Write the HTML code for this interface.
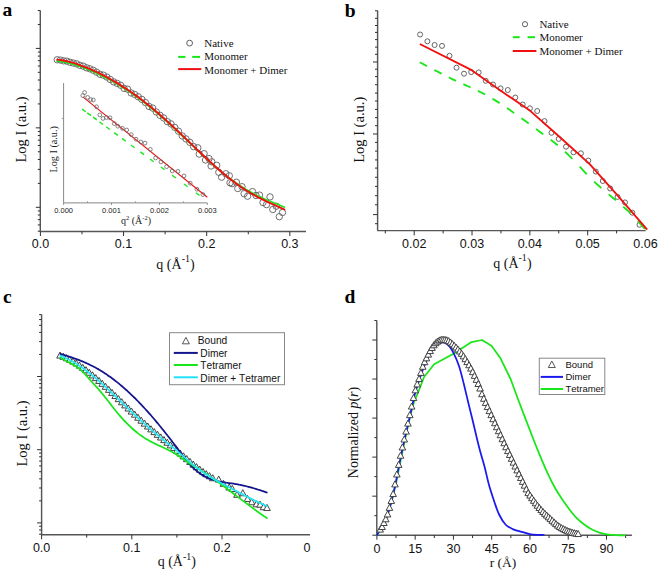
<!DOCTYPE html>
<html><head><meta charset="utf-8"><style>
html,body{margin:0;padding:0;background:#fff;}
svg{display:block;}
text{font-kerning:none;font-feature-settings:"kern" 0;}
</style></head><body>
<svg width="660" height="572" viewBox="0 0 660 572">
<rect width="660" height="572" fill="#fff"/>
<text x="2.50" y="15.90" font-family="Liberation Serif" font-size="19.5" text-anchor="start" font-weight="bold" fill="#000" >a</text>
<line x1="40.30" y1="10.50" x2="40.30" y2="231.50" stroke="#565656" stroke-width="1.45" />
<line x1="35.80" y1="48.40" x2="40.30" y2="48.40" stroke="#303030" stroke-width="1.0" />
<line x1="37.80" y1="103.93" x2="40.30" y2="103.93" stroke="#303030" stroke-width="1.0" />
<line x1="37.80" y1="89.94" x2="40.30" y2="89.94" stroke="#303030" stroke-width="1.0" />
<line x1="37.80" y1="80.02" x2="40.30" y2="80.02" stroke="#303030" stroke-width="1.0" />
<line x1="37.80" y1="72.32" x2="40.30" y2="72.32" stroke="#303030" stroke-width="1.0" />
<line x1="37.80" y1="66.03" x2="40.30" y2="66.03" stroke="#303030" stroke-width="1.0" />
<line x1="37.80" y1="60.71" x2="40.30" y2="60.71" stroke="#303030" stroke-width="1.0" />
<line x1="37.80" y1="56.10" x2="40.30" y2="56.10" stroke="#303030" stroke-width="1.0" />
<line x1="37.80" y1="52.04" x2="40.30" y2="52.04" stroke="#303030" stroke-width="1.0" />
<line x1="35.80" y1="127.85" x2="40.30" y2="127.85" stroke="#303030" stroke-width="1.0" />
<line x1="37.80" y1="183.38" x2="40.30" y2="183.38" stroke="#303030" stroke-width="1.0" />
<line x1="37.80" y1="169.39" x2="40.30" y2="169.39" stroke="#303030" stroke-width="1.0" />
<line x1="37.80" y1="159.47" x2="40.30" y2="159.47" stroke="#303030" stroke-width="1.0" />
<line x1="37.80" y1="151.77" x2="40.30" y2="151.77" stroke="#303030" stroke-width="1.0" />
<line x1="37.80" y1="145.48" x2="40.30" y2="145.48" stroke="#303030" stroke-width="1.0" />
<line x1="37.80" y1="140.16" x2="40.30" y2="140.16" stroke="#303030" stroke-width="1.0" />
<line x1="37.80" y1="135.55" x2="40.30" y2="135.55" stroke="#303030" stroke-width="1.0" />
<line x1="37.80" y1="131.49" x2="40.30" y2="131.49" stroke="#303030" stroke-width="1.0" />
<line x1="35.80" y1="207.30" x2="40.30" y2="207.30" stroke="#303030" stroke-width="1.0" />
<line x1="37.80" y1="231.22" x2="40.30" y2="231.22" stroke="#303030" stroke-width="1.0" />
<line x1="37.80" y1="224.93" x2="40.30" y2="224.93" stroke="#303030" stroke-width="1.0" />
<line x1="37.80" y1="219.61" x2="40.30" y2="219.61" stroke="#303030" stroke-width="1.0" />
<line x1="37.80" y1="215.00" x2="40.30" y2="215.00" stroke="#303030" stroke-width="1.0" />
<line x1="37.80" y1="210.94" x2="40.30" y2="210.94" stroke="#303030" stroke-width="1.0" />
<line x1="37.80" y1="24.48" x2="40.30" y2="24.48" stroke="#303030" stroke-width="1.0" />
<line x1="37.80" y1="10.49" x2="40.30" y2="10.49" stroke="#303030" stroke-width="1.0" />
<line x1="40.30" y1="231.50" x2="306.00" y2="231.50" stroke="#565656" stroke-width="1.45" />
<line x1="40.40" y1="231.50" x2="40.40" y2="236.00" stroke="#303030" stroke-width="1.0" />
<line x1="123.55" y1="231.50" x2="123.55" y2="236.00" stroke="#303030" stroke-width="1.0" />
<line x1="206.70" y1="231.50" x2="206.70" y2="236.00" stroke="#303030" stroke-width="1.0" />
<line x1="289.85" y1="231.50" x2="289.85" y2="236.00" stroke="#303030" stroke-width="1.0" />
<line x1="81.97" y1="231.50" x2="81.97" y2="234.30" stroke="#303030" stroke-width="1.0" />
<line x1="165.12" y1="231.50" x2="165.12" y2="234.30" stroke="#303030" stroke-width="1.0" />
<line x1="248.28" y1="231.50" x2="248.28" y2="234.30" stroke="#303030" stroke-width="1.0" />
<text x="40.40" y="248.30" font-family="Liberation Sans" font-size="12.5" text-anchor="middle" font-weight="normal" fill="#111" >0.0</text>
<text x="123.55" y="248.30" font-family="Liberation Sans" font-size="12.5" text-anchor="middle" font-weight="normal" fill="#111" >0.1</text>
<text x="206.70" y="248.30" font-family="Liberation Sans" font-size="12.5" text-anchor="middle" font-weight="normal" fill="#111" >0.2</text>
<text x="289.85" y="248.30" font-family="Liberation Sans" font-size="12.5" text-anchor="middle" font-weight="normal" fill="#111" >0.3</text>
<text x="175.50" y="269.00" font-family="Liberation Serif" font-size="14" text-anchor="middle" font-weight="normal" fill="#111" >q (Å<tspan dy="-6.8" font-size="10">-1</tspan><tspan dy="6.8">)</tspan></text>
<text transform="translate(26.4,129.5) rotate(-90)" x="0" y="0" font-family="Liberation Serif" font-size="14.5" text-anchor="middle" fill="#111">Log I (a.u.)</text>
<circle cx="57.20" cy="59.76" r="3.2" fill="none" stroke="#606060" stroke-width="0.9"/>
<circle cx="60.40" cy="60.05" r="3.2" fill="none" stroke="#606060" stroke-width="0.9"/>
<circle cx="63.62" cy="60.84" r="3.2" fill="none" stroke="#606060" stroke-width="0.9"/>
<circle cx="66.85" cy="61.20" r="3.2" fill="none" stroke="#606060" stroke-width="0.9"/>
<circle cx="70.09" cy="62.27" r="3.2" fill="none" stroke="#606060" stroke-width="0.9"/>
<circle cx="73.35" cy="63.08" r="3.2" fill="none" stroke="#606060" stroke-width="0.9"/>
<circle cx="76.63" cy="63.86" r="3.2" fill="none" stroke="#606060" stroke-width="0.9"/>
<circle cx="79.92" cy="65.33" r="3.2" fill="none" stroke="#606060" stroke-width="0.9"/>
<circle cx="83.22" cy="66.14" r="3.2" fill="none" stroke="#606060" stroke-width="0.9"/>
<circle cx="86.55" cy="67.79" r="3.2" fill="none" stroke="#606060" stroke-width="0.9"/>
<circle cx="89.88" cy="68.81" r="3.2" fill="none" stroke="#606060" stroke-width="0.9"/>
<circle cx="93.23" cy="70.28" r="3.2" fill="none" stroke="#606060" stroke-width="0.9"/>
<circle cx="96.60" cy="72.18" r="3.2" fill="none" stroke="#606060" stroke-width="0.9"/>
<circle cx="99.98" cy="74.28" r="3.2" fill="none" stroke="#606060" stroke-width="0.9"/>
<circle cx="103.38" cy="75.14" r="3.2" fill="none" stroke="#606060" stroke-width="0.9"/>
<circle cx="106.80" cy="77.04" r="3.2" fill="none" stroke="#606060" stroke-width="0.9"/>
<circle cx="110.23" cy="79.45" r="3.2" fill="none" stroke="#606060" stroke-width="0.9"/>
<circle cx="113.67" cy="81.88" r="3.2" fill="none" stroke="#606060" stroke-width="0.9"/>
<circle cx="117.13" cy="83.39" r="3.2" fill="none" stroke="#606060" stroke-width="0.9"/>
<circle cx="120.61" cy="85.25" r="3.2" fill="none" stroke="#606060" stroke-width="0.9"/>
<circle cx="124.10" cy="88.40" r="3.2" fill="none" stroke="#606060" stroke-width="0.9"/>
<circle cx="127.61" cy="89.17" r="3.2" fill="none" stroke="#606060" stroke-width="0.9"/>
<circle cx="131.14" cy="92.96" r="3.2" fill="none" stroke="#606060" stroke-width="0.9"/>
<circle cx="134.68" cy="94.45" r="3.2" fill="none" stroke="#606060" stroke-width="0.9"/>
<circle cx="138.24" cy="96.76" r="3.2" fill="none" stroke="#606060" stroke-width="0.9"/>
<circle cx="141.82" cy="99.37" r="3.2" fill="none" stroke="#606060" stroke-width="0.9"/>
<circle cx="145.41" cy="102.51" r="3.2" fill="none" stroke="#606060" stroke-width="0.9"/>
<circle cx="149.02" cy="106.43" r="3.2" fill="none" stroke="#606060" stroke-width="0.9"/>
<circle cx="152.64" cy="108.07" r="3.2" fill="none" stroke="#606060" stroke-width="0.9"/>
<circle cx="156.28" cy="112.00" r="3.2" fill="none" stroke="#606060" stroke-width="0.9"/>
<circle cx="159.94" cy="115.29" r="3.2" fill="none" stroke="#606060" stroke-width="0.9"/>
<circle cx="163.61" cy="117.91" r="3.2" fill="none" stroke="#606060" stroke-width="0.9"/>
<circle cx="167.31" cy="121.65" r="3.2" fill="none" stroke="#606060" stroke-width="0.9"/>
<circle cx="171.02" cy="123.88" r="3.2" fill="none" stroke="#606060" stroke-width="0.9"/>
<circle cx="174.74" cy="127.34" r="3.2" fill="none" stroke="#606060" stroke-width="0.9"/>
<circle cx="178.49" cy="131.22" r="3.2" fill="none" stroke="#606060" stroke-width="0.9"/>
<circle cx="182.25" cy="135.94" r="3.2" fill="none" stroke="#606060" stroke-width="0.9"/>
<circle cx="186.02" cy="138.95" r="3.2" fill="none" stroke="#606060" stroke-width="0.9"/>
<circle cx="189.82" cy="142.33" r="3.2" fill="none" stroke="#606060" stroke-width="0.9"/>
<circle cx="193.62" cy="146.64" r="3.2" fill="none" stroke="#606060" stroke-width="0.9"/>
<circle cx="197.80" cy="147.80" r="3.2" fill="none" stroke="#606060" stroke-width="0.9"/>
<circle cx="199.20" cy="154.10" r="3.2" fill="none" stroke="#606060" stroke-width="0.9"/>
<circle cx="204.10" cy="153.70" r="3.2" fill="none" stroke="#606060" stroke-width="0.9"/>
<circle cx="205.50" cy="160.00" r="3.2" fill="none" stroke="#606060" stroke-width="0.9"/>
<circle cx="209.00" cy="158.60" r="3.2" fill="none" stroke="#606060" stroke-width="0.9"/>
<circle cx="211.80" cy="161.80" r="3.2" fill="none" stroke="#606060" stroke-width="0.9"/>
<circle cx="211.10" cy="166.00" r="3.2" fill="none" stroke="#606060" stroke-width="0.9"/>
<circle cx="216.70" cy="165.30" r="3.2" fill="none" stroke="#606060" stroke-width="0.9"/>
<circle cx="218.80" cy="172.30" r="3.2" fill="none" stroke="#606060" stroke-width="0.9"/>
<circle cx="221.60" cy="177.20" r="3.2" fill="none" stroke="#606060" stroke-width="0.9"/>
<circle cx="225.80" cy="173.70" r="3.2" fill="none" stroke="#606060" stroke-width="0.9"/>
<circle cx="229.30" cy="175.80" r="3.2" fill="none" stroke="#606060" stroke-width="0.9"/>
<circle cx="230.00" cy="182.80" r="3.2" fill="none" stroke="#606060" stroke-width="0.9"/>
<circle cx="232.10" cy="183.60" r="3.2" fill="none" stroke="#606060" stroke-width="0.9"/>
<circle cx="236.40" cy="182.20" r="3.2" fill="none" stroke="#606060" stroke-width="0.9"/>
<circle cx="237.80" cy="188.50" r="3.2" fill="none" stroke="#606060" stroke-width="0.9"/>
<circle cx="242.00" cy="186.70" r="3.2" fill="none" stroke="#606060" stroke-width="0.9"/>
<circle cx="244.10" cy="193.70" r="3.2" fill="none" stroke="#606060" stroke-width="0.9"/>
<circle cx="247.60" cy="196.20" r="3.2" fill="none" stroke="#606060" stroke-width="0.9"/>
<circle cx="252.50" cy="191.60" r="3.2" fill="none" stroke="#606060" stroke-width="0.9"/>
<circle cx="256.00" cy="195.50" r="3.2" fill="none" stroke="#606060" stroke-width="0.9"/>
<circle cx="259.50" cy="195.10" r="3.2" fill="none" stroke="#606060" stroke-width="0.9"/>
<circle cx="263.00" cy="202.50" r="3.2" fill="none" stroke="#606060" stroke-width="0.9"/>
<circle cx="266.50" cy="204.60" r="3.2" fill="none" stroke="#606060" stroke-width="0.9"/>
<circle cx="270.00" cy="196.90" r="3.2" fill="none" stroke="#606060" stroke-width="0.9"/>
<circle cx="272.80" cy="209.50" r="3.2" fill="none" stroke="#606060" stroke-width="0.9"/>
<circle cx="276.20" cy="206.20" r="3.2" fill="none" stroke="#606060" stroke-width="0.9"/>
<circle cx="279.30" cy="216.70" r="3.2" fill="none" stroke="#606060" stroke-width="0.9"/>
<circle cx="282.50" cy="212.50" r="3.2" fill="none" stroke="#606060" stroke-width="0.9"/>
<path d="M56.40,61.07 C57.07,61.14 59.07,61.31 60.40,61.49 C61.73,61.66 63.07,61.88 64.40,62.13 C65.73,62.38 67.07,62.67 68.40,62.98 C69.73,63.30 71.07,63.64 72.40,64.01 C73.73,64.38 75.07,64.78 76.40,65.19 C77.73,65.61 79.07,66.05 80.40,66.52 C81.73,66.98 83.07,67.46 84.40,67.96 C85.73,68.47 87.07,68.99 88.40,69.53 C89.73,70.08 91.07,70.64 92.40,71.23 C93.73,71.81 95.07,72.41 96.40,73.03 C97.73,73.65 99.07,74.29 100.40,74.95 C101.73,75.60 103.07,76.27 104.40,76.96 C105.73,77.65 107.07,78.35 108.40,79.07 C109.73,79.79 111.07,80.53 112.40,81.28 C113.73,82.03 115.07,82.81 116.40,83.59 C117.73,84.38 119.07,85.19 120.40,86.01 C121.73,86.83 123.07,87.67 124.40,88.53 C125.73,89.38 127.07,90.26 128.40,91.15 C129.73,92.04 131.07,92.95 132.40,93.88 C133.73,94.81 135.07,95.75 136.40,96.72 C137.73,97.68 139.07,98.66 140.40,99.66 C141.73,100.66 143.07,101.67 144.40,102.70 C145.73,103.74 147.07,104.79 148.40,105.85 C149.73,106.92 151.07,108.00 152.40,109.10 C153.73,110.20 155.07,111.32 156.40,112.45 C157.73,113.58 159.07,114.72 160.40,115.88 C161.73,117.04 163.07,118.21 164.40,119.40 C165.73,120.59 167.07,121.79 168.40,123.00 C169.73,124.20 171.07,125.43 172.40,126.66 C173.73,127.89 175.07,129.13 176.40,130.38 C177.73,131.62 179.07,132.88 180.40,134.14 C181.73,135.39 183.07,136.65 184.40,137.91 C185.73,139.17 187.07,140.43 188.40,141.70 C189.73,142.96 191.07,144.23 192.40,145.49 C193.73,146.76 195.07,148.03 196.40,149.29 C197.73,150.55 199.07,151.80 200.40,153.05 C201.73,154.30 203.07,155.55 204.40,156.79 C205.73,158.02 207.07,159.25 208.40,160.46 C209.73,161.68 211.07,162.88 212.40,164.07 C213.73,165.26 215.07,166.44 216.40,167.60 C217.73,168.76 219.07,169.91 220.40,171.03 C221.73,172.16 223.07,173.28 224.40,174.36 C225.73,175.43 227.07,176.45 228.40,177.46 C229.73,178.47 231.07,179.46 232.40,180.42 C233.73,181.38 235.07,182.32 236.40,183.24 C237.73,184.15 239.07,185.04 240.40,185.91 C241.73,186.77 243.07,187.61 244.40,188.42 C245.73,189.23 247.07,190.02 248.40,190.78 C249.73,191.55 251.07,192.29 252.40,193.01 C253.73,193.73 255.07,194.42 256.40,195.10 C257.73,195.77 259.07,196.42 260.40,197.05 C261.73,197.68 263.07,198.29 264.40,198.89 C265.73,199.49 267.07,200.07 268.40,200.63 C269.73,201.20 271.07,201.74 272.40,202.28 C273.73,202.83 275.07,203.35 276.40,203.89 C277.73,204.42 279.07,204.95 280.40,205.50 C281.73,206.04 283.62,206.83 284.40,207.16 C285.18,207.49 284.98,207.41 285.10,207.46" fill="none" stroke="#19e619" stroke-width="1.6" stroke-linejoin="round" />
<path d="M56.40,59.55 C57.07,59.62 59.07,59.82 60.40,60.02 C61.73,60.21 63.07,60.45 64.40,60.71 C65.73,60.98 67.07,61.28 68.40,61.61 C69.73,61.94 71.07,62.31 72.40,62.69 C73.73,63.08 75.07,63.49 76.40,63.92 C77.73,64.36 79.07,64.82 80.40,65.30 C81.73,65.77 83.07,66.28 84.40,66.79 C85.73,67.31 87.07,67.85 88.40,68.41 C89.73,68.97 91.07,69.55 92.40,70.14 C93.73,70.73 95.07,71.34 96.40,71.97 C97.73,72.60 99.07,73.24 100.40,73.90 C101.73,74.57 103.07,75.24 104.40,75.94 C105.73,76.63 107.07,77.34 108.40,78.07 C109.73,78.80 111.07,79.54 112.40,80.31 C113.73,81.07 115.07,81.84 116.40,82.64 C117.73,83.44 119.07,84.25 120.40,85.08 C121.73,85.91 123.07,86.75 124.40,87.62 C125.73,88.48 127.07,89.36 128.40,90.26 C129.73,91.16 131.07,92.08 132.40,93.02 C133.73,93.95 135.07,94.90 136.40,95.87 C137.73,96.84 139.07,97.83 140.40,98.84 C141.73,99.84 143.07,100.87 144.40,101.91 C145.73,102.95 147.07,104.00 148.40,105.08 C149.73,106.15 151.07,107.24 152.40,108.35 C153.73,109.46 155.07,110.58 156.40,111.72 C157.73,112.85 159.07,114.01 160.40,115.17 C161.73,116.34 163.07,117.52 164.40,118.71 C165.73,119.91 167.07,121.11 168.40,122.33 C169.73,123.55 171.07,124.78 172.40,126.01 C173.73,127.25 175.07,128.50 176.40,129.76 C177.73,131.01 179.07,132.28 180.40,133.54 C181.73,134.81 183.07,136.09 184.40,137.37 C185.73,138.64 187.07,139.93 188.40,141.21 C189.73,142.49 191.07,143.78 192.40,145.06 C193.73,146.34 195.07,147.63 196.40,148.90 C197.73,150.18 199.07,151.46 200.40,152.73 C201.73,153.99 203.07,155.26 204.40,156.51 C205.73,157.76 207.07,159.01 208.40,160.24 C209.73,161.48 211.07,162.70 212.40,163.91 C213.73,165.11 215.07,166.31 216.40,167.49 C217.73,168.67 219.07,169.83 220.40,170.97 C221.73,172.12 223.07,173.24 224.40,174.35 C225.73,175.45 227.07,176.54 228.40,177.60 C229.73,178.66 231.07,179.70 232.40,180.72 C233.73,181.73 235.07,182.73 236.40,183.69 C237.73,184.66 239.07,185.60 240.40,186.52 C241.73,187.44 243.07,188.33 244.40,189.20 C245.73,190.06 247.07,190.90 248.40,191.72 C249.73,192.54 251.07,193.33 252.40,194.09 C253.73,194.86 255.07,195.60 256.40,196.32 C257.73,197.04 259.07,197.74 260.40,198.42 C261.73,199.09 263.07,199.75 264.40,200.39 C265.73,201.04 267.07,201.66 268.40,202.28 C269.73,202.89 271.07,203.49 272.40,204.09 C273.73,204.69 275.07,205.28 276.40,205.87 C277.73,206.47 279.07,207.06 280.40,207.66 C281.73,208.27 283.62,209.14 284.40,209.51 C285.18,209.87 284.98,209.79 285.10,209.84" fill="none" stroke="#f01010" stroke-width="1.9" stroke-linejoin="round" />
<circle cx="189.60" cy="43.10" r="2.9" fill="none" stroke="#555" stroke-width="0.95"/>
<line x1="178.20" y1="56.90" x2="185.50" y2="56.90" stroke="#19e619" stroke-width="2.0" />
<line x1="192.20" y1="56.90" x2="200.00" y2="56.90" stroke="#19e619" stroke-width="2.0" />
<line x1="178.20" y1="69.10" x2="201.30" y2="69.10" stroke="#f01010" stroke-width="2.0" />
<text x="204.20" y="46.70" font-family="Liberation Serif" font-size="11" text-anchor="start" font-weight="normal" fill="#111" >Native</text>
<text x="204.20" y="60.00" font-family="Liberation Serif" font-size="11" text-anchor="start" font-weight="normal" fill="#111" >Monomer</text>
<text x="204.20" y="73.60" font-family="Liberation Serif" font-size="11" text-anchor="start" font-weight="normal" fill="#111" >Monomer + Dimer</text>
<line x1="63.60" y1="83.00" x2="63.60" y2="202.90" stroke="#888" stroke-width="1.0" />
<line x1="63.60" y1="202.90" x2="207.30" y2="202.90" stroke="#888" stroke-width="1.0" />
<line x1="61.80" y1="118.40" x2="63.60" y2="118.40" stroke="#888" stroke-width="0.9" />
<line x1="63.60" y1="202.90" x2="63.60" y2="205.00" stroke="#888" stroke-width="0.9" />
<text x="63.60" y="212.70" font-family="Liberation Sans" font-size="7.5" text-anchor="middle" font-weight="normal" fill="#222" >0.000</text>
<line x1="111.50" y1="202.90" x2="111.50" y2="205.00" stroke="#888" stroke-width="0.9" />
<text x="111.50" y="212.70" font-family="Liberation Sans" font-size="7.5" text-anchor="middle" font-weight="normal" fill="#222" >0.001</text>
<line x1="159.50" y1="202.90" x2="159.50" y2="205.00" stroke="#888" stroke-width="0.9" />
<text x="159.50" y="212.70" font-family="Liberation Sans" font-size="7.5" text-anchor="middle" font-weight="normal" fill="#222" >0.002</text>
<line x1="207.30" y1="202.90" x2="207.30" y2="205.00" stroke="#888" stroke-width="0.9" />
<text x="207.30" y="212.70" font-family="Liberation Sans" font-size="7.5" text-anchor="middle" font-weight="normal" fill="#222" >0.003</text>
<line x1="87.50" y1="201.30" x2="87.50" y2="202.90" stroke="#888" stroke-width="0.9" />
<line x1="135.60" y1="201.30" x2="135.60" y2="202.90" stroke="#888" stroke-width="0.9" />
<line x1="183.60" y1="201.30" x2="183.60" y2="202.90" stroke="#888" stroke-width="0.9" />
<text x="136.00" y="224.30" font-family="Liberation Serif" font-size="10" text-anchor="middle" font-weight="normal" fill="#222" >q<tspan dy="-4" font-size="6.5">2</tspan><tspan dy="4"> (Å</tspan><tspan dy="-4" font-size="6.5">-2</tspan><tspan dy="4">)</tspan></text>
<text transform="translate(56.5,149.3) rotate(-90)" font-family="Liberation Serif" font-size="10.2" text-anchor="middle" fill="#222">Log I (a.u.)</text>
<line x1="82.80" y1="96.90" x2="207.30" y2="197.30" stroke="#f01010" stroke-width="1.1" />
<line x1="82.10" y1="109.07" x2="85.80" y2="111.79" stroke="#19e619" stroke-width="1.4" />
<line x1="87.30" y1="112.90" x2="91.00" y2="115.62" stroke="#19e619" stroke-width="1.4" />
<line x1="93.10" y1="117.16" x2="96.80" y2="119.89" stroke="#19e619" stroke-width="1.4" />
<line x1="99.40" y1="121.80" x2="103.10" y2="124.52" stroke="#19e619" stroke-width="1.4" />
<line x1="106.20" y1="126.80" x2="109.90" y2="129.52" stroke="#19e619" stroke-width="1.4" />
<line x1="114.10" y1="132.61" x2="117.80" y2="135.33" stroke="#19e619" stroke-width="1.4" />
<line x1="122.00" y1="138.42" x2="125.70" y2="141.14" stroke="#19e619" stroke-width="1.4" />
<line x1="130.90" y1="144.97" x2="134.60" y2="147.69" stroke="#19e619" stroke-width="1.4" />
<line x1="140.30" y1="151.88" x2="144.00" y2="154.60" stroke="#19e619" stroke-width="1.4" />
<line x1="150.00" y1="159.01" x2="153.70" y2="161.74" stroke="#19e619" stroke-width="1.4" />
<line x1="160.90" y1="167.03" x2="164.60" y2="169.75" stroke="#19e619" stroke-width="1.4" />
<line x1="172.10" y1="175.27" x2="175.80" y2="177.99" stroke="#19e619" stroke-width="1.4" />
<line x1="184.00" y1="184.02" x2="187.70" y2="186.74" stroke="#19e619" stroke-width="1.4" />
<line x1="195.90" y1="192.77" x2="199.60" y2="195.49" stroke="#19e619" stroke-width="1.4" />
<circle cx="84.60" cy="92.50" r="1.9" fill="none" stroke="#666" stroke-width="0.8"/>
<circle cx="82.80" cy="95.60" r="1.9" fill="none" stroke="#666" stroke-width="0.8"/>
<circle cx="87.60" cy="97.40" r="1.9" fill="none" stroke="#666" stroke-width="0.8"/>
<circle cx="90.70" cy="99.50" r="1.9" fill="none" stroke="#666" stroke-width="0.8"/>
<circle cx="93.30" cy="100.00" r="1.9" fill="none" stroke="#666" stroke-width="0.8"/>
<circle cx="96.50" cy="106.80" r="1.9" fill="none" stroke="#666" stroke-width="0.8"/>
<circle cx="99.80" cy="114.90" r="1.9" fill="none" stroke="#666" stroke-width="0.8"/>
<circle cx="103.00" cy="118.40" r="1.9" fill="none" stroke="#666" stroke-width="0.8"/>
<circle cx="106.40" cy="117.50" r="1.9" fill="none" stroke="#666" stroke-width="0.8"/>
<circle cx="110.00" cy="117.80" r="1.9" fill="none" stroke="#666" stroke-width="0.8"/>
<circle cx="114.30" cy="123.60" r="1.9" fill="none" stroke="#666" stroke-width="0.8"/>
<circle cx="117.80" cy="126.20" r="1.9" fill="none" stroke="#666" stroke-width="0.8"/>
<circle cx="122.40" cy="128.30" r="1.9" fill="none" stroke="#666" stroke-width="0.8"/>
<circle cx="126.70" cy="130.00" r="1.9" fill="none" stroke="#666" stroke-width="0.8"/>
<circle cx="131.20" cy="134.60" r="1.9" fill="none" stroke="#666" stroke-width="0.8"/>
<circle cx="136.00" cy="139.20" r="1.9" fill="none" stroke="#666" stroke-width="0.8"/>
<circle cx="140.90" cy="142.00" r="1.9" fill="none" stroke="#666" stroke-width="0.8"/>
<circle cx="145.00" cy="143.10" r="1.9" fill="none" stroke="#666" stroke-width="0.8"/>
<circle cx="150.30" cy="149.40" r="1.9" fill="none" stroke="#666" stroke-width="0.8"/>
<circle cx="155.60" cy="158.00" r="1.9" fill="none" stroke="#666" stroke-width="0.8"/>
<circle cx="160.90" cy="161.90" r="1.9" fill="none" stroke="#666" stroke-width="0.8"/>
<circle cx="166.60" cy="166.70" r="1.9" fill="none" stroke="#666" stroke-width="0.8"/>
<circle cx="172.20" cy="171.00" r="1.9" fill="none" stroke="#666" stroke-width="0.8"/>
<circle cx="178.00" cy="171.40" r="1.9" fill="none" stroke="#666" stroke-width="0.8"/>
<circle cx="184.00" cy="175.90" r="1.9" fill="none" stroke="#666" stroke-width="0.8"/>
<circle cx="190.20" cy="183.20" r="1.9" fill="none" stroke="#666" stroke-width="0.8"/>
<circle cx="196.90" cy="189.20" r="1.9" fill="none" stroke="#666" stroke-width="0.8"/>
<circle cx="202.90" cy="194.50" r="1.9" fill="none" stroke="#666" stroke-width="0.8"/>
<text x="344.80" y="16.50" font-family="Liberation Serif" font-size="19.5" text-anchor="start" font-weight="bold" fill="#000" >b</text>
<line x1="377.60" y1="10.50" x2="377.60" y2="230.60" stroke="#565656" stroke-width="1.45" />
<line x1="375.00" y1="10.80" x2="377.60" y2="10.80" stroke="#303030" stroke-width="1.0" />
<line x1="375.00" y1="18.30" x2="377.60" y2="18.30" stroke="#303030" stroke-width="1.0" />
<line x1="375.00" y1="25.50" x2="377.60" y2="25.50" stroke="#303030" stroke-width="1.0" />
<line x1="375.00" y1="32.40" x2="377.60" y2="32.40" stroke="#303030" stroke-width="1.0" />
<line x1="375.00" y1="39.60" x2="377.60" y2="39.60" stroke="#303030" stroke-width="1.0" />
<line x1="375.00" y1="47.10" x2="377.60" y2="47.10" stroke="#303030" stroke-width="1.0" />
<line x1="375.00" y1="54.30" x2="377.60" y2="54.30" stroke="#303030" stroke-width="1.0" />
<line x1="373.00" y1="62.00" x2="377.60" y2="62.00" stroke="#303030" stroke-width="1.0" />
<line x1="375.00" y1="69.20" x2="377.60" y2="69.20" stroke="#303030" stroke-width="1.0" />
<line x1="375.00" y1="76.60" x2="377.60" y2="76.60" stroke="#303030" stroke-width="1.0" />
<line x1="375.00" y1="84.70" x2="377.60" y2="84.70" stroke="#303030" stroke-width="1.0" />
<line x1="375.00" y1="93.10" x2="377.60" y2="93.10" stroke="#303030" stroke-width="1.0" />
<line x1="375.00" y1="101.00" x2="377.60" y2="101.00" stroke="#303030" stroke-width="1.0" />
<line x1="375.00" y1="109.40" x2="377.60" y2="109.40" stroke="#303030" stroke-width="1.0" />
<line x1="375.00" y1="117.60" x2="377.60" y2="117.60" stroke="#303030" stroke-width="1.0" />
<line x1="375.00" y1="125.70" x2="377.60" y2="125.70" stroke="#303030" stroke-width="1.0" />
<line x1="373.00" y1="134.00" x2="377.60" y2="134.00" stroke="#303030" stroke-width="1.0" />
<line x1="375.00" y1="142.40" x2="377.60" y2="142.40" stroke="#303030" stroke-width="1.0" />
<line x1="375.00" y1="151.10" x2="377.60" y2="151.10" stroke="#303030" stroke-width="1.0" />
<line x1="375.00" y1="159.90" x2="377.60" y2="159.90" stroke="#303030" stroke-width="1.0" />
<line x1="375.00" y1="168.10" x2="377.60" y2="168.10" stroke="#303030" stroke-width="1.0" />
<line x1="375.00" y1="177.30" x2="377.60" y2="177.30" stroke="#303030" stroke-width="1.0" />
<line x1="375.00" y1="186.40" x2="377.60" y2="186.40" stroke="#303030" stroke-width="1.0" />
<line x1="375.00" y1="195.70" x2="377.60" y2="195.70" stroke="#303030" stroke-width="1.0" />
<line x1="375.00" y1="204.80" x2="377.60" y2="204.80" stroke="#303030" stroke-width="1.0" />
<line x1="373.00" y1="214.60" x2="377.60" y2="214.60" stroke="#303030" stroke-width="1.0" />
<line x1="375.00" y1="223.70" x2="377.60" y2="223.70" stroke="#303030" stroke-width="1.0" />
<line x1="377.30" y1="230.60" x2="645.70" y2="230.60" stroke="#565656" stroke-width="1.45" />
<line x1="385.29" y1="230.60" x2="385.29" y2="233.40" stroke="#303030" stroke-width="1.0" />
<line x1="414.20" y1="230.60" x2="414.20" y2="235.40" stroke="#303030" stroke-width="1.0" />
<line x1="443.11" y1="230.60" x2="443.11" y2="233.40" stroke="#303030" stroke-width="1.0" />
<line x1="472.02" y1="230.60" x2="472.02" y2="235.40" stroke="#303030" stroke-width="1.0" />
<line x1="500.94" y1="230.60" x2="500.94" y2="233.40" stroke="#303030" stroke-width="1.0" />
<line x1="529.85" y1="230.60" x2="529.85" y2="235.40" stroke="#303030" stroke-width="1.0" />
<line x1="558.76" y1="230.60" x2="558.76" y2="233.40" stroke="#303030" stroke-width="1.0" />
<line x1="587.67" y1="230.60" x2="587.67" y2="235.40" stroke="#303030" stroke-width="1.0" />
<line x1="616.59" y1="230.60" x2="616.59" y2="233.40" stroke="#303030" stroke-width="1.0" />
<text x="414.20" y="248.00" font-family="Liberation Sans" font-size="12.5" text-anchor="middle" font-weight="normal" fill="#111" >0.02</text>
<text x="472.02" y="248.00" font-family="Liberation Sans" font-size="12.5" text-anchor="middle" font-weight="normal" fill="#111" >0.03</text>
<text x="529.85" y="248.00" font-family="Liberation Sans" font-size="12.5" text-anchor="middle" font-weight="normal" fill="#111" >0.04</text>
<text x="587.67" y="248.00" font-family="Liberation Sans" font-size="12.5" text-anchor="middle" font-weight="normal" fill="#111" >0.05</text>
<text x="645.50" y="248.00" font-family="Liberation Sans" font-size="12.5" text-anchor="middle" font-weight="normal" fill="#111" >0.06</text>
<text x="512.40" y="267.50" font-family="Liberation Serif" font-size="14" text-anchor="middle" font-weight="normal" fill="#111" >q (Å<tspan dy="-6.8" font-size="10">-1</tspan><tspan dy="6.8">)</tspan></text>
<text transform="translate(363.9,129.8) rotate(-90)" font-family="Liberation Serif" font-size="14.5" text-anchor="middle" fill="#111">Log I (a.u.)</text>
<circle cx="420.10" cy="34.50" r="2.5" fill="none" stroke="#555" stroke-width="0.9"/>
<circle cx="427.40" cy="41.30" r="2.5" fill="none" stroke="#555" stroke-width="0.9"/>
<circle cx="434.60" cy="45.00" r="2.5" fill="none" stroke="#555" stroke-width="0.9"/>
<circle cx="442.00" cy="45.90" r="2.5" fill="none" stroke="#555" stroke-width="0.9"/>
<circle cx="449.50" cy="55.80" r="2.5" fill="none" stroke="#555" stroke-width="0.9"/>
<circle cx="456.50" cy="67.70" r="2.5" fill="none" stroke="#555" stroke-width="0.9"/>
<circle cx="464.00" cy="73.70" r="2.5" fill="none" stroke="#555" stroke-width="0.9"/>
<circle cx="471.20" cy="72.10" r="2.5" fill="none" stroke="#555" stroke-width="0.9"/>
<circle cx="478.70" cy="72.40" r="2.5" fill="none" stroke="#555" stroke-width="0.9"/>
<circle cx="485.70" cy="80.80" r="2.5" fill="none" stroke="#555" stroke-width="0.9"/>
<circle cx="493.00" cy="84.50" r="2.5" fill="none" stroke="#555" stroke-width="0.9"/>
<circle cx="500.50" cy="88.40" r="2.5" fill="none" stroke="#555" stroke-width="0.9"/>
<circle cx="507.80" cy="90.00" r="2.5" fill="none" stroke="#555" stroke-width="0.9"/>
<circle cx="515.30" cy="97.50" r="2.5" fill="none" stroke="#555" stroke-width="0.9"/>
<circle cx="522.70" cy="104.50" r="2.5" fill="none" stroke="#555" stroke-width="0.9"/>
<circle cx="529.90" cy="108.30" r="2.5" fill="none" stroke="#555" stroke-width="0.9"/>
<circle cx="537.20" cy="111.00" r="2.5" fill="none" stroke="#555" stroke-width="0.9"/>
<circle cx="544.50" cy="121.10" r="2.5" fill="none" stroke="#555" stroke-width="0.9"/>
<circle cx="551.50" cy="132.80" r="2.5" fill="none" stroke="#555" stroke-width="0.9"/>
<circle cx="558.70" cy="138.90" r="2.5" fill="none" stroke="#555" stroke-width="0.9"/>
<circle cx="566.00" cy="146.70" r="2.5" fill="none" stroke="#555" stroke-width="0.9"/>
<circle cx="573.50" cy="152.30" r="2.5" fill="none" stroke="#555" stroke-width="0.9"/>
<circle cx="580.90" cy="153.30" r="2.5" fill="none" stroke="#555" stroke-width="0.9"/>
<circle cx="588.30" cy="160.60" r="2.5" fill="none" stroke="#555" stroke-width="0.9"/>
<circle cx="595.80" cy="171.60" r="2.5" fill="none" stroke="#555" stroke-width="0.9"/>
<circle cx="602.80" cy="181.00" r="2.5" fill="none" stroke="#555" stroke-width="0.9"/>
<circle cx="610.20" cy="188.50" r="2.5" fill="none" stroke="#555" stroke-width="0.9"/>
<circle cx="617.50" cy="196.90" r="2.5" fill="none" stroke="#555" stroke-width="0.9"/>
<circle cx="625.00" cy="202.40" r="2.5" fill="none" stroke="#555" stroke-width="0.9"/>
<circle cx="632.30" cy="212.70" r="2.5" fill="none" stroke="#555" stroke-width="0.9"/>
<circle cx="639.50" cy="224.80" r="2.5" fill="none" stroke="#555" stroke-width="0.9"/>
<path d="M419.80,62.30 L420.61,62.72 L421.54,63.21 L422.57,63.76 L423.71,64.36 L424.94,65.00 L426.25,65.70 L427.00,66.10" fill="none" stroke="#19e619" stroke-width="1.85" stroke-linejoin="round" stroke-linecap="butt"/>
<path d="M434.33,69.95 L435.58,70.61 L437.31,71.51 L439.08,72.43 L440.87,73.36 L441.53,73.70" fill="none" stroke="#19e619" stroke-width="1.85" stroke-linejoin="round" stroke-linecap="butt"/>
<path d="M448.86,77.43 L450.00,78.00 L451.84,78.91 L453.73,79.81 L455.67,80.71 L456.06,80.89" fill="none" stroke="#19e619" stroke-width="1.85" stroke-linejoin="round" stroke-linecap="butt"/>
<path d="M463.39,84.19 L463.77,84.36 L465.88,85.30 L468.02,86.25 L470.18,87.23 L470.59,87.41" fill="none" stroke="#19e619" stroke-width="1.85" stroke-linejoin="round" stroke-linecap="butt"/>
<path d="M477.92,90.84 L479.03,91.38 L481.27,92.49 L483.53,93.65 L485.12,94.49" fill="none" stroke="#19e619" stroke-width="1.85" stroke-linejoin="round" stroke-linecap="butt"/>
<path d="M492.45,98.61 L492.60,98.70 L494.91,100.11 L497.29,101.60 L499.65,103.12" fill="none" stroke="#19e619" stroke-width="1.85" stroke-linejoin="round" stroke-linecap="butt"/>
<path d="M506.98,108.03 L507.34,108.28 L509.93,110.07 L512.53,111.89 L514.18,113.05" fill="none" stroke="#19e619" stroke-width="1.85" stroke-linejoin="round" stroke-linecap="butt"/>
<path d="M521.51,118.30 L522.83,119.26 L525.32,121.08 L527.77,122.87 L528.71,123.56" fill="none" stroke="#19e619" stroke-width="1.85" stroke-linejoin="round" stroke-linecap="butt"/>
<path d="M536.04,128.96 L536.78,129.51 L538.80,131.00 L540.70,132.40 L542.48,133.71 L543.24,134.27" fill="none" stroke="#19e619" stroke-width="1.85" stroke-linejoin="round" stroke-linecap="butt"/>
<path d="M550.57,139.70 L551.13,140.12 L552.33,141.03 L553.48,141.92 L554.60,142.80 L555.70,143.67 L556.78,144.55 L557.77,145.36" fill="none" stroke="#19e619" stroke-width="1.85" stroke-linejoin="round" stroke-linecap="butt"/>
<path d="M565.10,151.78 L566.10,152.70 L567.46,153.98 L568.84,155.30 L570.22,156.67 L571.62,158.08 L572.30,158.78" fill="none" stroke="#19e619" stroke-width="1.85" stroke-linejoin="round" stroke-linecap="butt"/>
<path d="M579.63,166.54 L580.17,167.12 L581.63,168.69 L583.09,170.26 L584.56,171.82 L586.04,173.38 L586.83,174.22" fill="none" stroke="#19e619" stroke-width="1.85" stroke-linejoin="round" stroke-linecap="butt"/>
<path d="M594.16,181.60 L595.00,182.40 L596.53,183.82 L598.09,185.25 L599.69,186.67 L601.31,188.10 L601.36,188.14" fill="none" stroke="#19e619" stroke-width="1.85" stroke-linejoin="round" stroke-linecap="butt"/>
<path d="M608.69,194.37 L609.63,195.16 L611.30,196.54 L612.95,197.92 L614.59,199.28 L615.89,200.37" fill="none" stroke="#19e619" stroke-width="1.85" stroke-linejoin="round" stroke-linecap="butt"/>
<path d="M623.22,206.62 L623.74,207.08 L625.10,208.30 L626.40,209.50 L627.66,210.69 L628.91,211.89 L630.14,213.10 L630.42,213.38" fill="none" stroke="#19e619" stroke-width="1.85" stroke-linejoin="round" stroke-linecap="butt"/>
<path d="M637.75,221.01 L638.01,221.29 L639.00,222.37 L639.95,223.41 L640.85,224.40 L641.71,225.34 L642.52,226.23 L643.27,227.06 L643.97,227.83 L644.61,228.53 L644.95,228.90" fill="none" stroke="#19e619" stroke-width="1.85" stroke-linejoin="round" stroke-linecap="butt"/>
<path d="M419.80,44.00 L471.70,70.20 L499.70,90.00 L529.90,110.60 L560.00,137.30 L589.70,164.10 L617.70,195.60 L647.20,229.70" fill="none" stroke="#f01010" stroke-width="1.85" stroke-linejoin="round" />
<circle cx="525.00" cy="24.20" r="2.6" fill="none" stroke="#555" stroke-width="0.95"/>
<line x1="512.80" y1="37.20" x2="519.70" y2="37.20" stroke="#19e619" stroke-width="2.0" />
<line x1="527.60" y1="37.20" x2="535.00" y2="37.20" stroke="#19e619" stroke-width="2.0" />
<line x1="512.80" y1="51.00" x2="536.40" y2="51.00" stroke="#f01010" stroke-width="2.0" />
<text x="539.40" y="27.70" font-family="Liberation Serif" font-size="11" text-anchor="start" font-weight="normal" fill="#111" >Native</text>
<text x="539.40" y="41.10" font-family="Liberation Serif" font-size="11" text-anchor="start" font-weight="normal" fill="#111" >Monomer</text>
<text x="539.40" y="54.90" font-family="Liberation Serif" font-size="11" text-anchor="start" font-weight="normal" fill="#111" >Monomer + Dimer</text>
<text x="3.00" y="302.70" font-family="Liberation Serif" font-size="19.5" text-anchor="start" font-weight="bold" fill="#000" >c</text>
<line x1="41.60" y1="314.50" x2="41.60" y2="534.80" stroke="#565656" stroke-width="1.45" />
<line x1="37.10" y1="376.50" x2="41.60" y2="376.50" stroke="#303030" stroke-width="1.0" />
<line x1="39.10" y1="427.66" x2="41.60" y2="427.66" stroke="#303030" stroke-width="1.0" />
<line x1="39.10" y1="414.77" x2="41.60" y2="414.77" stroke="#303030" stroke-width="1.0" />
<line x1="39.10" y1="405.63" x2="41.60" y2="405.63" stroke="#303030" stroke-width="1.0" />
<line x1="39.10" y1="398.54" x2="41.60" y2="398.54" stroke="#303030" stroke-width="1.0" />
<line x1="39.10" y1="392.74" x2="41.60" y2="392.74" stroke="#303030" stroke-width="1.0" />
<line x1="39.10" y1="387.84" x2="41.60" y2="387.84" stroke="#303030" stroke-width="1.0" />
<line x1="39.10" y1="383.59" x2="41.60" y2="383.59" stroke="#303030" stroke-width="1.0" />
<line x1="39.10" y1="379.85" x2="41.60" y2="379.85" stroke="#303030" stroke-width="1.0" />
<line x1="37.10" y1="449.70" x2="41.60" y2="449.70" stroke="#303030" stroke-width="1.0" />
<line x1="39.10" y1="500.86" x2="41.60" y2="500.86" stroke="#303030" stroke-width="1.0" />
<line x1="39.10" y1="487.97" x2="41.60" y2="487.97" stroke="#303030" stroke-width="1.0" />
<line x1="39.10" y1="478.83" x2="41.60" y2="478.83" stroke="#303030" stroke-width="1.0" />
<line x1="39.10" y1="471.74" x2="41.60" y2="471.74" stroke="#303030" stroke-width="1.0" />
<line x1="39.10" y1="465.94" x2="41.60" y2="465.94" stroke="#303030" stroke-width="1.0" />
<line x1="39.10" y1="461.04" x2="41.60" y2="461.04" stroke="#303030" stroke-width="1.0" />
<line x1="39.10" y1="456.79" x2="41.60" y2="456.79" stroke="#303030" stroke-width="1.0" />
<line x1="39.10" y1="453.05" x2="41.60" y2="453.05" stroke="#303030" stroke-width="1.0" />
<line x1="37.10" y1="522.90" x2="41.60" y2="522.90" stroke="#303030" stroke-width="1.0" />
<line x1="39.10" y1="534.24" x2="41.60" y2="534.24" stroke="#303030" stroke-width="1.0" />
<line x1="39.10" y1="529.99" x2="41.60" y2="529.99" stroke="#303030" stroke-width="1.0" />
<line x1="39.10" y1="526.25" x2="41.60" y2="526.25" stroke="#303030" stroke-width="1.0" />
<line x1="39.10" y1="354.46" x2="41.60" y2="354.46" stroke="#303030" stroke-width="1.0" />
<line x1="39.10" y1="341.57" x2="41.60" y2="341.57" stroke="#303030" stroke-width="1.0" />
<line x1="39.10" y1="332.43" x2="41.60" y2="332.43" stroke="#303030" stroke-width="1.0" />
<line x1="39.10" y1="325.34" x2="41.60" y2="325.34" stroke="#303030" stroke-width="1.0" />
<line x1="39.10" y1="319.54" x2="41.60" y2="319.54" stroke="#303030" stroke-width="1.0" />
<line x1="39.10" y1="314.64" x2="41.60" y2="314.64" stroke="#303030" stroke-width="1.0" />
<line x1="41.60" y1="534.80" x2="310.00" y2="534.80" stroke="#565656" stroke-width="1.45" />
<line x1="41.60" y1="534.80" x2="41.60" y2="539.30" stroke="#303030" stroke-width="1.0" />
<line x1="131.80" y1="534.80" x2="131.80" y2="539.30" stroke="#303030" stroke-width="1.0" />
<line x1="222.00" y1="534.80" x2="222.00" y2="539.30" stroke="#303030" stroke-width="1.0" />
<line x1="86.70" y1="534.80" x2="86.70" y2="537.60" stroke="#303030" stroke-width="1.0" />
<line x1="176.90" y1="534.80" x2="176.90" y2="537.60" stroke="#303030" stroke-width="1.0" />
<line x1="267.10" y1="534.80" x2="267.10" y2="537.60" stroke="#303030" stroke-width="1.0" />
<text x="41.60" y="551.70" font-family="Liberation Sans" font-size="12.5" text-anchor="middle" font-weight="normal" fill="#111" >0.0</text>
<text x="131.80" y="551.70" font-family="Liberation Sans" font-size="12.5" text-anchor="middle" font-weight="normal" fill="#111" >0.1</text>
<text x="222.00" y="551.70" font-family="Liberation Sans" font-size="12.5" text-anchor="middle" font-weight="normal" fill="#111" >0.2</text>
<text x="303.60" y="551.70" font-family="Liberation Sans" font-size="12.5" text-anchor="start" font-weight="normal" fill="#111" >0</text>
<text x="176.80" y="566.40" font-family="Liberation Serif" font-size="14" text-anchor="middle" font-weight="normal" fill="#111" >q (Å<tspan dy="-6.8" font-size="10">-1</tspan><tspan dy="6.8">)</tspan></text>
<text transform="translate(26.6,433.5) rotate(-90)" font-family="Liberation Serif" font-size="14.5" text-anchor="middle" fill="#111">Log I (a.u.)</text>
<path d="M60.00,352.03 L56.70,358.10 L63.30,358.10 Z" fill="#fff" stroke="#3a3a3a" stroke-width="0.95" stroke-linejoin="miter"/>
<path d="M63.25,353.22 L59.95,359.29 L66.55,359.29 Z" fill="#fff" stroke="#3a3a3a" stroke-width="0.95" stroke-linejoin="miter"/>
<path d="M66.50,354.62 L63.20,360.69 L69.80,360.69 Z" fill="#fff" stroke="#3a3a3a" stroke-width="0.95" stroke-linejoin="miter"/>
<path d="M69.75,356.22 L66.45,362.29 L73.05,362.29 Z" fill="#fff" stroke="#3a3a3a" stroke-width="0.95" stroke-linejoin="miter"/>
<path d="M73.00,357.99 L69.70,364.07 L76.30,364.07 Z" fill="#fff" stroke="#3a3a3a" stroke-width="0.95" stroke-linejoin="miter"/>
<path d="M76.25,359.94 L72.95,366.01 L79.55,366.01 Z" fill="#fff" stroke="#3a3a3a" stroke-width="0.95" stroke-linejoin="miter"/>
<path d="M79.50,362.05 L76.20,368.12 L82.80,368.12 Z" fill="#fff" stroke="#3a3a3a" stroke-width="0.95" stroke-linejoin="miter"/>
<path d="M82.75,364.30 L79.45,370.37 L86.05,370.37 Z" fill="#fff" stroke="#3a3a3a" stroke-width="0.95" stroke-linejoin="miter"/>
<path d="M86.00,366.69 L82.70,372.76 L89.30,372.76 Z" fill="#fff" stroke="#3a3a3a" stroke-width="0.95" stroke-linejoin="miter"/>
<path d="M89.25,369.21 L85.95,375.28 L92.55,375.28 Z" fill="#fff" stroke="#3a3a3a" stroke-width="0.95" stroke-linejoin="miter"/>
<path d="M92.50,371.83 L89.20,377.91 L95.80,377.91 Z" fill="#fff" stroke="#3a3a3a" stroke-width="0.95" stroke-linejoin="miter"/>
<path d="M95.75,374.57 L92.45,380.64 L99.05,380.64 Z" fill="#fff" stroke="#3a3a3a" stroke-width="0.95" stroke-linejoin="miter"/>
<path d="M99.00,377.39 L95.70,383.46 L102.30,383.46 Z" fill="#fff" stroke="#3a3a3a" stroke-width="0.95" stroke-linejoin="miter"/>
<path d="M102.25,380.29 L98.95,386.36 L105.55,386.36 Z" fill="#fff" stroke="#3a3a3a" stroke-width="0.95" stroke-linejoin="miter"/>
<path d="M105.50,383.25 L102.20,389.32 L108.80,389.32 Z" fill="#fff" stroke="#3a3a3a" stroke-width="0.95" stroke-linejoin="miter"/>
<path d="M108.75,386.28 L105.45,392.35 L112.05,392.35 Z" fill="#fff" stroke="#3a3a3a" stroke-width="0.95" stroke-linejoin="miter"/>
<path d="M112.00,389.34 L108.70,395.42 L115.30,395.42 Z" fill="#fff" stroke="#3a3a3a" stroke-width="0.95" stroke-linejoin="miter"/>
<path d="M115.25,392.44 L111.95,398.52 L118.55,398.52 Z" fill="#fff" stroke="#3a3a3a" stroke-width="0.95" stroke-linejoin="miter"/>
<path d="M118.50,395.57 L115.20,401.64 L121.80,401.64 Z" fill="#fff" stroke="#3a3a3a" stroke-width="0.95" stroke-linejoin="miter"/>
<path d="M121.75,398.70 L118.45,404.77 L125.05,404.77 Z" fill="#fff" stroke="#3a3a3a" stroke-width="0.95" stroke-linejoin="miter"/>
<path d="M125.00,401.83 L121.70,407.90 L128.30,407.90 Z" fill="#fff" stroke="#3a3a3a" stroke-width="0.95" stroke-linejoin="miter"/>
<path d="M128.25,404.95 L124.95,411.02 L131.55,411.02 Z" fill="#fff" stroke="#3a3a3a" stroke-width="0.95" stroke-linejoin="miter"/>
<path d="M131.50,408.04 L128.20,414.12 L134.80,414.12 Z" fill="#fff" stroke="#3a3a3a" stroke-width="0.95" stroke-linejoin="miter"/>
<path d="M134.75,411.11 L131.45,417.18 L138.05,417.18 Z" fill="#fff" stroke="#3a3a3a" stroke-width="0.95" stroke-linejoin="miter"/>
<path d="M138.00,414.14 L134.70,420.22 L141.30,420.22 Z" fill="#fff" stroke="#3a3a3a" stroke-width="0.95" stroke-linejoin="miter"/>
<path d="M141.25,417.13 L137.95,423.21 L144.55,423.21 Z" fill="#fff" stroke="#3a3a3a" stroke-width="0.95" stroke-linejoin="miter"/>
<path d="M144.50,420.08 L141.20,426.15 L147.80,426.15 Z" fill="#fff" stroke="#3a3a3a" stroke-width="0.95" stroke-linejoin="miter"/>
<path d="M147.75,422.97 L144.45,429.04 L151.05,429.04 Z" fill="#fff" stroke="#3a3a3a" stroke-width="0.95" stroke-linejoin="miter"/>
<path d="M151.00,425.80 L147.70,431.87 L154.30,431.87 Z" fill="#fff" stroke="#3a3a3a" stroke-width="0.95" stroke-linejoin="miter"/>
<path d="M154.25,428.56 L150.95,434.63 L157.55,434.63 Z" fill="#fff" stroke="#3a3a3a" stroke-width="0.95" stroke-linejoin="miter"/>
<path d="M157.50,431.26 L154.20,437.34 L160.80,437.34 Z" fill="#fff" stroke="#3a3a3a" stroke-width="0.95" stroke-linejoin="miter"/>
<path d="M160.75,433.92 L157.45,440.00 L164.05,440.00 Z" fill="#fff" stroke="#3a3a3a" stroke-width="0.95" stroke-linejoin="miter"/>
<path d="M164.00,436.56 L160.70,442.63 L167.30,442.63 Z" fill="#fff" stroke="#3a3a3a" stroke-width="0.95" stroke-linejoin="miter"/>
<path d="M167.25,439.19 L163.95,445.26 L170.55,445.26 Z" fill="#fff" stroke="#3a3a3a" stroke-width="0.95" stroke-linejoin="miter"/>
<path d="M170.50,441.83 L167.20,447.90 L173.80,447.90 Z" fill="#fff" stroke="#3a3a3a" stroke-width="0.95" stroke-linejoin="miter"/>
<path d="M173.75,444.50 L170.45,450.57 L177.05,450.57 Z" fill="#fff" stroke="#3a3a3a" stroke-width="0.95" stroke-linejoin="miter"/>
<path d="M177.00,447.22 L173.70,453.29 L180.30,453.29 Z" fill="#fff" stroke="#3a3a3a" stroke-width="0.95" stroke-linejoin="miter"/>
<path d="M180.25,449.99 L176.95,456.06 L183.55,456.06 Z" fill="#fff" stroke="#3a3a3a" stroke-width="0.95" stroke-linejoin="miter"/>
<path d="M183.50,452.79 L180.20,458.86 L186.80,458.86 Z" fill="#fff" stroke="#3a3a3a" stroke-width="0.95" stroke-linejoin="miter"/>
<path d="M186.75,455.58 L183.45,461.65 L190.05,461.65 Z" fill="#fff" stroke="#3a3a3a" stroke-width="0.95" stroke-linejoin="miter"/>
<path d="M190.00,458.34 L186.70,464.41 L193.30,464.41 Z" fill="#fff" stroke="#3a3a3a" stroke-width="0.95" stroke-linejoin="miter"/>
<path d="M193.25,461.03 L189.95,467.11 L196.55,467.11 Z" fill="#fff" stroke="#3a3a3a" stroke-width="0.95" stroke-linejoin="miter"/>
<path d="M196.50,463.64 L193.20,469.71 L199.80,469.71 Z" fill="#fff" stroke="#3a3a3a" stroke-width="0.95" stroke-linejoin="miter"/>
<path d="M199.75,466.12 L196.45,472.19 L203.05,472.19 Z" fill="#fff" stroke="#3a3a3a" stroke-width="0.95" stroke-linejoin="miter"/>
<path d="M203.00,468.46 L199.70,474.53 L206.30,474.53 Z" fill="#fff" stroke="#3a3a3a" stroke-width="0.95" stroke-linejoin="miter"/>
<path d="M206.25,470.64 L202.95,476.71 L209.55,476.71 Z" fill="#fff" stroke="#3a3a3a" stroke-width="0.95" stroke-linejoin="miter"/>
<path d="M209.50,472.70 L206.20,478.77 L212.80,478.77 Z" fill="#fff" stroke="#3a3a3a" stroke-width="0.95" stroke-linejoin="miter"/>
<path d="M212.75,474.65 L209.45,480.72 L216.05,480.72 Z" fill="#fff" stroke="#3a3a3a" stroke-width="0.95" stroke-linejoin="miter"/>
<path d="M218.70,476.06 L215.40,482.14 L222.00,482.14 Z" fill="#fff" stroke="#3a3a3a" stroke-width="0.95" stroke-linejoin="miter"/>
<path d="M223.40,480.26 L220.10,486.34 L226.70,486.34 Z" fill="#fff" stroke="#3a3a3a" stroke-width="0.95" stroke-linejoin="miter"/>
<path d="M229.20,483.96 L225.90,490.04 L232.50,490.04 Z" fill="#fff" stroke="#3a3a3a" stroke-width="0.95" stroke-linejoin="miter"/>
<path d="M232.30,485.46 L229.00,491.54 L235.60,491.54 Z" fill="#fff" stroke="#3a3a3a" stroke-width="0.95" stroke-linejoin="miter"/>
<path d="M237.00,491.26 L233.70,497.34 L240.30,497.34 Z" fill="#fff" stroke="#3a3a3a" stroke-width="0.95" stroke-linejoin="miter"/>
<path d="M242.80,489.66 L239.50,495.74 L246.10,495.74 Z" fill="#fff" stroke="#3a3a3a" stroke-width="0.95" stroke-linejoin="miter"/>
<path d="M247.50,495.46 L244.20,501.54 L250.80,501.54 Z" fill="#fff" stroke="#3a3a3a" stroke-width="0.95" stroke-linejoin="miter"/>
<path d="M251.70,498.66 L248.40,504.74 L255.00,504.74 Z" fill="#fff" stroke="#3a3a3a" stroke-width="0.95" stroke-linejoin="miter"/>
<path d="M256.40,500.76 L253.10,506.84 L259.70,506.84 Z" fill="#fff" stroke="#3a3a3a" stroke-width="0.95" stroke-linejoin="miter"/>
<path d="M260.10,501.16 L256.80,507.24 L263.40,507.24 Z" fill="#fff" stroke="#3a3a3a" stroke-width="0.95" stroke-linejoin="miter"/>
<path d="M263.50,503.66 L260.20,509.74 L266.80,509.74 Z" fill="#fff" stroke="#3a3a3a" stroke-width="0.95" stroke-linejoin="miter"/>
<path d="M267.00,504.46 L263.70,510.54 L270.30,510.54 Z" fill="#fff" stroke="#3a3a3a" stroke-width="0.95" stroke-linejoin="miter"/>
<path d="M59.70,353.67 C60.03,353.77 61.03,354.06 61.70,354.26 C62.37,354.46 63.03,354.66 63.70,354.87 C64.37,355.07 65.03,355.27 65.70,355.48 C66.37,355.69 67.03,355.90 67.70,356.12 C68.37,356.33 69.03,356.55 69.70,356.77 C70.37,356.99 71.03,357.21 71.70,357.44 C72.37,357.67 73.03,357.90 73.70,358.13 C74.37,358.37 75.03,358.61 75.70,358.85 C76.37,359.09 77.03,359.34 77.70,359.59 C78.37,359.84 79.03,360.10 79.70,360.36 C80.37,360.62 81.03,360.89 81.70,361.16 C82.37,361.44 83.03,361.71 83.70,362.00 C84.37,362.28 85.03,362.57 85.70,362.86 C86.37,363.16 87.03,363.46 87.70,363.76 C88.37,364.07 89.03,364.38 89.70,364.70 C90.37,365.02 91.03,365.35 91.70,365.68 C92.37,366.02 93.03,366.36 93.70,366.71 C94.37,367.05 95.03,367.41 95.70,367.77 C96.37,368.13 97.03,368.51 97.70,368.88 C98.37,369.26 99.03,369.65 99.70,370.04 C100.37,370.44 101.03,370.84 101.70,371.25 C102.37,371.66 103.03,372.08 103.70,372.51 C104.37,372.94 105.03,373.38 105.70,373.82 C106.37,374.26 107.03,374.72 107.70,375.18 C108.37,375.64 109.03,376.11 109.70,376.58 C110.37,377.06 111.03,377.54 111.70,378.04 C112.37,378.53 113.03,379.03 113.70,379.54 C114.37,380.04 115.03,380.56 115.70,381.08 C116.37,381.61 117.03,382.14 117.70,382.68 C118.37,383.21 119.03,383.76 119.70,384.31 C120.37,384.87 121.03,385.43 121.70,386.00 C122.37,386.56 123.03,387.14 123.70,387.72 C124.37,388.31 125.03,388.90 125.70,389.49 C126.37,390.09 127.03,390.70 127.70,391.31 C128.37,391.92 129.03,392.54 129.70,393.16 C130.37,393.79 131.03,394.42 131.70,395.06 C132.37,395.70 133.03,396.35 133.70,397.00 C134.37,397.65 135.03,398.31 135.70,398.98 C136.37,399.65 137.03,400.32 137.70,401.00 C138.37,401.68 139.03,402.37 139.70,403.06 C140.37,403.75 141.03,404.45 141.70,405.16 C142.37,405.87 143.03,406.58 143.70,407.30 C144.37,408.02 145.03,408.74 145.70,409.47 C146.37,410.21 147.03,410.94 147.70,411.69 C148.37,412.43 149.03,413.18 149.70,413.94 C150.37,414.69 151.03,415.46 151.70,416.22 C152.37,416.99 153.03,417.77 153.70,418.55 C154.37,419.33 155.03,420.11 155.70,420.90 C156.37,421.69 157.03,422.49 157.70,423.30 C158.37,424.10 159.03,424.91 159.70,425.72 C160.37,426.54 161.03,427.36 161.70,428.18 C162.37,429.01 163.03,429.84 163.70,430.67 C164.37,431.51 165.03,432.35 165.70,433.19 C166.37,434.04 167.03,434.89 167.70,435.74 C168.37,436.59 169.03,437.45 169.70,438.31 C170.37,439.16 171.03,440.03 171.70,440.89 C172.37,441.75 173.03,442.62 173.70,443.48 C174.37,444.35 175.03,445.22 175.70,446.09 C176.37,446.95 177.03,447.82 177.70,448.70 C178.37,449.57 179.03,450.45 179.70,451.34 C180.37,452.23 181.03,453.14 181.70,454.05 C182.37,454.95 183.03,455.87 183.70,456.76 C184.37,457.66 185.03,458.56 185.70,459.42 C186.37,460.28 187.03,461.12 187.70,461.93 C188.37,462.74 189.03,463.51 189.70,464.26 C190.37,465.00 191.03,465.71 191.70,466.40 C192.37,467.09 193.03,467.74 193.70,468.37 C194.37,469.00 195.03,469.60 195.70,470.17 C196.37,470.75 197.03,471.29 197.70,471.82 C198.37,472.34 199.03,472.84 199.70,473.31 C200.37,473.78 201.03,474.23 201.70,474.66 C202.37,475.08 203.03,475.48 203.70,475.87 C204.37,476.25 205.03,476.61 205.70,476.94 C206.37,477.28 207.03,477.60 207.70,477.90 C208.37,478.20 209.03,478.48 209.70,478.74 C210.37,479.01 211.03,479.25 211.70,479.48 C212.37,479.71 213.03,479.92 213.70,480.12 C214.37,480.32 215.03,480.51 215.70,480.68 C216.37,480.86 217.03,481.02 217.70,481.17 C218.37,481.32 219.03,481.46 219.70,481.59 C220.37,481.72 221.03,481.85 221.70,481.96 C222.37,482.08 223.03,482.19 223.70,482.30 C224.37,482.40 225.03,482.50 225.70,482.60 C226.37,482.70 227.03,482.79 227.70,482.88 C228.37,482.97 229.03,483.06 229.70,483.15 C230.37,483.25 231.03,483.34 231.70,483.43 C232.37,483.52 233.03,483.62 233.70,483.72 C234.37,483.82 235.03,483.92 235.70,484.03 C236.37,484.14 237.03,484.25 237.70,484.37 C238.37,484.50 239.03,484.62 239.70,484.75 C240.37,484.89 241.03,485.02 241.70,485.17 C242.37,485.31 243.03,485.46 243.70,485.61 C244.37,485.76 245.03,485.92 245.70,486.08 C246.37,486.25 247.03,486.41 247.70,486.59 C248.37,486.76 249.03,486.93 249.70,487.11 C250.37,487.30 251.03,487.48 251.70,487.67 C252.37,487.86 253.03,488.05 253.70,488.25 C254.37,488.44 255.03,488.64 255.70,488.85 C256.37,489.05 257.03,489.26 257.70,489.47 C258.37,489.68 259.03,489.89 259.70,490.11 C260.37,490.33 261.03,490.55 261.70,490.77 C262.37,490.99 263.03,491.22 263.70,491.44 C264.37,491.67 265.07,491.91 265.70,492.13 C266.33,492.35 267.20,492.66 267.50,492.76" fill="none" stroke="#14148c" stroke-width="1.75" stroke-linejoin="round" />
<path d="M59.70,357.19 C60.03,357.40 61.03,358.05 61.70,358.45 C62.37,358.85 63.03,359.22 63.70,359.59 C64.37,359.96 65.03,360.31 65.70,360.66 C66.37,361.01 67.03,361.34 67.70,361.68 C68.37,362.02 69.03,362.36 69.70,362.70 C70.37,363.05 71.03,363.39 71.70,363.76 C72.37,364.12 73.03,364.48 73.70,364.88 C74.37,365.27 75.03,365.67 75.70,366.10 C76.37,366.53 77.03,366.98 77.70,367.46 C78.37,367.94 79.03,368.45 79.70,369.00 C80.37,369.54 81.03,370.12 81.70,370.74 C82.37,371.36 83.03,372.03 83.70,372.73 C84.37,373.43 85.03,374.17 85.70,374.92 C86.37,375.67 87.03,376.45 87.70,377.22 C88.37,377.98 89.03,378.76 89.70,379.52 C90.37,380.28 91.03,381.02 91.70,381.75 C92.37,382.48 93.03,383.20 93.70,383.92 C94.37,384.64 95.03,385.35 95.70,386.08 C96.37,386.80 97.03,387.53 97.70,388.27 C98.37,389.02 99.03,389.78 99.70,390.56 C100.37,391.33 101.03,392.13 101.70,392.94 C102.37,393.75 103.03,394.57 103.70,395.40 C104.37,396.24 105.03,397.08 105.70,397.93 C106.37,398.78 107.03,399.64 107.70,400.50 C108.37,401.36 109.03,402.22 109.70,403.09 C110.37,403.95 111.03,404.81 111.70,405.67 C112.37,406.53 113.03,407.39 113.70,408.24 C114.37,409.08 115.03,409.93 115.70,410.76 C116.37,411.59 117.03,412.41 117.70,413.22 C118.37,414.03 119.03,414.82 119.70,415.60 C120.37,416.38 121.03,417.14 121.70,417.89 C122.37,418.64 123.03,419.37 123.70,420.09 C124.37,420.81 125.03,421.51 125.70,422.20 C126.37,422.89 127.03,423.57 127.70,424.23 C128.37,424.89 129.03,425.54 129.70,426.17 C130.37,426.80 131.03,427.42 131.70,428.02 C132.37,428.63 133.03,429.22 133.70,429.79 C134.37,430.37 135.03,430.93 135.70,431.48 C136.37,432.03 137.03,432.56 137.70,433.08 C138.37,433.60 139.03,434.10 139.70,434.60 C140.37,435.09 141.03,435.57 141.70,436.03 C142.37,436.50 143.03,436.95 143.70,437.38 C144.37,437.82 145.03,438.24 145.70,438.65 C146.37,439.07 147.03,439.46 147.70,439.85 C148.37,440.23 149.03,440.60 149.70,440.97 C150.37,441.33 151.03,441.68 151.70,442.03 C152.37,442.37 153.03,442.71 153.70,443.04 C154.37,443.37 155.03,443.69 155.70,444.01 C156.37,444.33 157.03,444.64 157.70,444.96 C158.37,445.27 159.03,445.58 159.70,445.89 C160.37,446.20 161.03,446.50 161.70,446.81 C162.37,447.12 163.03,447.43 163.70,447.74 C164.37,448.06 165.03,448.37 165.70,448.69 C166.37,449.01 167.03,449.33 167.70,449.67 C168.37,450.00 169.03,450.33 169.70,450.68 C170.37,451.03 171.03,451.38 171.70,451.75 C172.37,452.11 173.03,452.49 173.70,452.87 C174.37,453.26 175.03,453.66 175.70,454.07 C176.37,454.48 177.03,454.91 177.70,455.35 C178.37,455.79 179.03,456.24 179.70,456.69 C180.37,457.15 181.03,457.61 181.70,458.07 C182.37,458.54 183.03,459.01 183.70,459.47 C184.37,459.93 185.03,460.40 185.70,460.85 C186.37,461.31 187.03,461.76 187.70,462.20 C188.37,462.64 189.03,463.08 189.70,463.50 C190.37,463.93 191.03,464.35 191.70,464.77 C192.37,465.19 193.03,465.60 193.70,466.01 C194.37,466.42 195.03,466.83 195.70,467.24 C196.37,467.65 197.03,468.06 197.70,468.47 C198.37,468.88 199.03,469.29 199.70,469.70 C200.37,470.12 201.03,470.53 201.70,470.96 C202.37,471.38 203.03,471.81 203.70,472.24 C204.37,472.68 205.03,473.11 205.70,473.55 C206.37,474.00 207.03,474.44 207.70,474.89 C208.37,475.34 209.03,475.79 209.70,476.25 C210.37,476.71 211.03,477.17 211.70,477.63 C212.37,478.10 213.03,478.56 213.70,479.03 C214.37,479.50 215.03,479.98 215.70,480.45 C216.37,480.93 217.03,481.41 217.70,481.89 C218.37,482.37 219.03,482.86 219.70,483.34 C220.37,483.83 221.03,484.32 221.70,484.81 C222.37,485.30 223.03,485.79 223.70,486.29 C224.37,486.78 225.03,487.28 225.70,487.78 C226.37,488.28 227.03,488.77 227.70,489.28 C228.37,489.78 229.03,490.28 229.70,490.78 C230.37,491.28 231.03,491.79 231.70,492.29 C232.37,492.80 233.03,493.30 233.70,493.81 C234.37,494.31 235.03,494.82 235.70,495.33 C236.37,495.83 237.03,496.34 237.70,496.85 C238.37,497.35 239.03,497.86 239.70,498.37 C240.37,498.87 241.03,499.38 241.70,499.88 C242.37,500.39 243.03,500.89 243.70,501.40 C244.37,501.90 245.03,502.40 245.70,502.90 C246.37,503.40 247.03,503.91 247.70,504.40 C248.37,504.90 249.03,505.40 249.70,505.90 C250.37,506.39 251.03,506.89 251.70,507.38 C252.37,507.87 253.03,508.36 253.70,508.85 C254.37,509.34 255.03,509.82 255.70,510.31 C256.37,510.79 257.03,511.27 257.70,511.75 C258.37,512.23 259.03,512.70 259.70,513.17 C260.37,513.65 261.03,514.12 261.70,514.58 C262.37,515.05 263.03,515.51 263.70,515.97 C264.37,516.43 265.07,516.91 265.70,517.34 C266.33,517.77 267.20,518.34 267.50,518.55" fill="none" stroke="#19e619" stroke-width="1.75" stroke-linejoin="round" />
<path d="M59.70,355.66 C60.03,355.78 61.03,356.12 61.70,356.36 C62.37,356.61 63.03,356.87 63.70,357.14 C64.37,357.41 65.03,357.70 65.70,358.00 C66.37,358.29 67.03,358.60 67.70,358.93 C68.37,359.25 69.03,359.58 69.70,359.93 C70.37,360.27 71.03,360.63 71.70,361.00 C72.37,361.37 73.03,361.75 73.70,362.13 C74.37,362.52 75.03,362.92 75.70,363.34 C76.37,363.75 77.03,364.17 77.70,364.60 C78.37,365.03 79.03,365.47 79.70,365.92 C80.37,366.37 81.03,366.83 81.70,367.29 C82.37,367.76 83.03,368.24 83.70,368.72 C84.37,369.21 85.03,369.70 85.70,370.20 C86.37,370.70 87.03,371.21 87.70,371.73 C88.37,372.24 89.03,372.77 89.70,373.30 C90.37,373.83 91.03,374.37 91.70,374.91 C92.37,375.46 93.03,376.01 93.70,376.57 C94.37,377.13 95.03,377.69 95.70,378.26 C96.37,378.83 97.03,379.40 97.70,379.98 C98.37,380.56 99.03,381.15 99.70,381.74 C100.37,382.33 101.03,382.93 101.70,383.53 C102.37,384.13 103.03,384.73 103.70,385.34 C104.37,385.95 105.03,386.56 105.70,387.17 C106.37,387.79 107.03,388.41 107.70,389.03 C108.37,389.65 109.03,390.28 109.70,390.90 C110.37,391.53 111.03,392.16 111.70,392.80 C112.37,393.43 113.03,394.06 113.70,394.70 C114.37,395.33 115.03,395.97 115.70,396.61 C116.37,397.25 117.03,397.89 117.70,398.53 C118.37,399.17 119.03,399.82 119.70,400.46 C120.37,401.10 121.03,401.74 121.70,402.39 C122.37,403.03 123.03,403.67 123.70,404.32 C124.37,404.96 125.03,405.60 125.70,406.24 C126.37,406.88 127.03,407.52 127.70,408.16 C128.37,408.80 129.03,409.43 129.70,410.07 C130.37,410.70 131.03,411.34 131.70,411.97 C132.37,412.60 133.03,413.23 133.70,413.86 C134.37,414.49 135.03,415.11 135.70,415.74 C136.37,416.36 137.03,416.98 137.70,417.60 C138.37,418.22 139.03,418.84 139.70,419.45 C140.37,420.06 141.03,420.67 141.70,421.28 C142.37,421.89 143.03,422.49 143.70,423.09 C144.37,423.69 145.03,424.29 145.70,424.89 C146.37,425.48 147.03,426.07 147.70,426.66 C148.37,427.24 149.03,427.83 149.70,428.41 C150.37,428.99 151.03,429.56 151.70,430.13 C152.37,430.70 153.03,431.27 153.70,431.83 C154.37,432.40 155.03,432.95 155.70,433.51 C156.37,434.06 157.03,434.62 157.70,435.16 C158.37,435.71 159.03,436.26 159.70,436.80 C160.37,437.35 161.03,437.89 161.70,438.43 C162.37,438.97 163.03,439.51 163.70,440.05 C164.37,440.59 165.03,441.13 165.70,441.67 C166.37,442.21 167.03,442.75 167.70,443.29 C168.37,443.83 169.03,444.37 169.70,444.91 C170.37,445.45 171.03,446.00 171.70,446.55 C172.37,447.09 173.03,447.64 173.70,448.19 C174.37,448.75 175.03,449.30 175.70,449.86 C176.37,450.42 177.03,450.98 177.70,451.55 C178.37,452.12 179.03,452.69 179.70,453.26 C180.37,453.83 181.03,454.40 181.70,454.97 C182.37,455.55 183.03,456.12 183.70,456.70 C184.37,457.27 185.03,457.85 185.70,458.42 C186.37,458.99 187.03,459.56 187.70,460.13 C188.37,460.70 189.03,461.26 189.70,461.82 C190.37,462.38 191.03,462.94 191.70,463.49 C192.37,464.05 193.03,464.60 193.70,465.14 C194.37,465.68 195.03,466.21 195.70,466.74 C196.37,467.27 197.03,467.79 197.70,468.31 C198.37,468.82 199.03,469.32 199.70,469.82 C200.37,470.31 201.03,470.80 201.70,471.28 C202.37,471.75 203.03,472.22 203.70,472.67 C204.37,473.13 205.03,473.58 205.70,474.02 C206.37,474.46 207.03,474.89 207.70,475.31 C208.37,475.74 209.03,476.15 209.70,476.56 C210.37,476.97 211.03,477.37 211.70,477.77 C212.37,478.17 213.03,478.56 213.70,478.94 C214.37,479.33 215.03,479.71 215.70,480.08 C216.37,480.46 217.03,480.83 217.70,481.20 C218.37,481.57 219.03,481.93 219.70,482.30 C220.37,482.66 221.03,483.02 221.70,483.37 C222.37,483.73 223.03,484.09 223.70,484.44 C224.37,484.80 225.03,485.15 225.70,485.50 C226.37,485.86 227.03,486.21 227.70,486.56 C228.37,486.91 229.03,487.26 229.70,487.61 C230.37,487.97 231.03,488.32 231.70,488.67 C232.37,489.02 233.03,489.37 233.70,489.71 C234.37,490.06 235.03,490.41 235.70,490.76 C236.37,491.10 237.03,491.45 237.70,491.80 C238.37,492.14 239.03,492.49 239.70,492.83 C240.37,493.17 241.03,493.52 241.70,493.86 C242.37,494.20 243.03,494.54 243.70,494.88 C244.37,495.22 245.03,495.56 245.70,495.90 C246.37,496.24 247.03,496.58 247.70,496.91 C248.37,497.25 249.03,497.58 249.70,497.92 C250.37,498.25 251.03,498.58 251.70,498.92 C252.37,499.25 253.03,499.58 253.70,499.91 C254.37,500.24 255.03,500.56 255.70,500.89 C256.37,501.22 257.03,501.54 257.70,501.86 C258.37,502.19 259.03,502.51 259.70,502.83 C260.37,503.15 261.03,503.47 261.70,503.79 C262.37,504.10 263.03,504.42 263.70,504.73 C264.37,505.05 265.07,505.38 265.70,505.67 C266.33,505.97 267.20,506.37 267.50,506.51" fill="none" stroke="#1ee8f5" stroke-width="1.7" stroke-linejoin="round" />
<rect x="169.5" y="332.7" width="115" height="52" fill="none" stroke="#888" stroke-width="1"/>
<path d="M185.90,337.38 L182.40,343.82 L189.40,343.82 Z" fill="none" stroke="#444" stroke-width="0.9" stroke-linejoin="miter"/>
<line x1="173.80" y1="352.90" x2="197.80" y2="352.90" stroke="#14148c" stroke-width="2.0" />
<line x1="173.80" y1="365.00" x2="197.80" y2="365.00" stroke="#19e619" stroke-width="2.0" />
<line x1="173.80" y1="377.30" x2="197.80" y2="377.30" stroke="#22e0f8" stroke-width="2.0" />
<text x="197.80" y="343.80" font-family="Liberation Sans" font-size="10.2" text-anchor="start" font-weight="normal" fill="#111" >Bound</text>
<text x="200.30" y="356.50" font-family="Liberation Sans" font-size="10.2" text-anchor="start" font-weight="normal" fill="#111" >Dimer</text>
<text x="200.30" y="368.80" font-family="Liberation Sans" font-size="10.2" text-anchor="start" font-weight="normal" fill="#111" >Tetramer</text>
<text x="200.30" y="381.50" font-family="Liberation Sans" font-size="10.2" text-anchor="start" font-weight="normal" fill="#111" >Dimer + Tetramer</text>
<text x="344.40" y="303.00" font-family="Liberation Serif" font-size="19.5" text-anchor="start" font-weight="bold" fill="#000" >d</text>
<line x1="376.80" y1="320.50" x2="376.80" y2="535.20" stroke="#565656" stroke-width="1.45" />
<line x1="372.30" y1="535.20" x2="376.80" y2="535.20" stroke="#303030" stroke-width="1.0" />
<line x1="374.30" y1="515.68" x2="376.80" y2="515.68" stroke="#303030" stroke-width="1.0" />
<line x1="372.30" y1="496.16" x2="376.80" y2="496.16" stroke="#303030" stroke-width="1.0" />
<line x1="374.30" y1="476.64" x2="376.80" y2="476.64" stroke="#303030" stroke-width="1.0" />
<line x1="372.30" y1="457.12" x2="376.80" y2="457.12" stroke="#303030" stroke-width="1.0" />
<line x1="374.30" y1="437.60" x2="376.80" y2="437.60" stroke="#303030" stroke-width="1.0" />
<line x1="372.30" y1="418.08" x2="376.80" y2="418.08" stroke="#303030" stroke-width="1.0" />
<line x1="374.30" y1="398.56" x2="376.80" y2="398.56" stroke="#303030" stroke-width="1.0" />
<line x1="372.30" y1="379.04" x2="376.80" y2="379.04" stroke="#303030" stroke-width="1.0" />
<line x1="374.30" y1="359.52" x2="376.80" y2="359.52" stroke="#303030" stroke-width="1.0" />
<line x1="372.30" y1="340.00" x2="376.80" y2="340.00" stroke="#303030" stroke-width="1.0" />
<line x1="374.30" y1="320.48" x2="376.80" y2="320.48" stroke="#303030" stroke-width="1.0" />
<line x1="376.80" y1="535.20" x2="631.90" y2="535.20" stroke="#565656" stroke-width="1.45" />
<line x1="376.90" y1="535.20" x2="376.90" y2="539.70" stroke="#303030" stroke-width="1.0" />
<text x="376.90" y="552.60" font-family="Liberation Sans" font-size="12.5" text-anchor="middle" font-weight="normal" fill="#111" >0</text>
<line x1="415.16" y1="535.20" x2="415.16" y2="539.70" stroke="#303030" stroke-width="1.0" />
<text x="415.16" y="552.60" font-family="Liberation Sans" font-size="12.5" text-anchor="middle" font-weight="normal" fill="#111" >15</text>
<line x1="453.43" y1="535.20" x2="453.43" y2="539.70" stroke="#303030" stroke-width="1.0" />
<text x="453.43" y="552.60" font-family="Liberation Sans" font-size="12.5" text-anchor="middle" font-weight="normal" fill="#111" >30</text>
<line x1="491.69" y1="535.20" x2="491.69" y2="539.70" stroke="#303030" stroke-width="1.0" />
<text x="491.69" y="552.60" font-family="Liberation Sans" font-size="12.5" text-anchor="middle" font-weight="normal" fill="#111" >45</text>
<line x1="529.96" y1="535.20" x2="529.96" y2="539.70" stroke="#303030" stroke-width="1.0" />
<text x="529.96" y="552.60" font-family="Liberation Sans" font-size="12.5" text-anchor="middle" font-weight="normal" fill="#111" >60</text>
<line x1="568.23" y1="535.20" x2="568.23" y2="539.70" stroke="#303030" stroke-width="1.0" />
<text x="568.23" y="552.60" font-family="Liberation Sans" font-size="12.5" text-anchor="middle" font-weight="normal" fill="#111" >75</text>
<line x1="606.49" y1="535.20" x2="606.49" y2="539.70" stroke="#303030" stroke-width="1.0" />
<text x="606.49" y="552.60" font-family="Liberation Sans" font-size="12.5" text-anchor="middle" font-weight="normal" fill="#111" >90</text>
<line x1="396.03" y1="535.20" x2="396.03" y2="538.00" stroke="#303030" stroke-width="1.0" />
<line x1="434.30" y1="535.20" x2="434.30" y2="538.00" stroke="#303030" stroke-width="1.0" />
<line x1="472.56" y1="535.20" x2="472.56" y2="538.00" stroke="#303030" stroke-width="1.0" />
<line x1="510.83" y1="535.20" x2="510.83" y2="538.00" stroke="#303030" stroke-width="1.0" />
<line x1="549.09" y1="535.20" x2="549.09" y2="538.00" stroke="#303030" stroke-width="1.0" />
<line x1="587.36" y1="535.20" x2="587.36" y2="538.00" stroke="#303030" stroke-width="1.0" />
<line x1="625.62" y1="535.20" x2="625.62" y2="538.00" stroke="#303030" stroke-width="1.0" />
<text x="503.00" y="567.20" font-family="Liberation Serif" font-size="13.5" text-anchor="middle" font-weight="normal" fill="#111" >r (Å)</text>
<text transform="translate(358.2,432.5) rotate(-90)" font-family="Liberation Serif" font-size="14" text-anchor="middle" fill="#111">Normalized <tspan font-style="italic">p</tspan>(<tspan font-style="italic">r</tspan>)</text>
<path d="M376.90,535.20 L381.00,529.00 L385.50,521.00 L389.50,509.00 L393.00,496.00 L396.50,481.00 L399.50,466.00 L403.00,449.00 L406.50,432.50 L410.50,415.00 L414.00,402.00 L417.90,393.00 L424.10,377.00 L434.10,364.20 L454.00,353.40 L471.50,342.10 L482.00,340.00 L491.40,345.70 L500.50,358.30 L510.60,379.00 L518.30,400.00 L518.30,400.00 C520.87,406.67 530.00,430.53 533.70,440.00 C537.40,449.47 538.15,451.20 540.50,456.80 C542.85,462.40 545.35,468.35 547.80,473.60 C550.25,478.85 552.75,483.93 555.20,488.30 C557.65,492.67 560.37,496.60 562.50,499.80 C564.63,503.00 565.83,504.67 568.00,507.50 C570.17,510.33 572.75,513.92 575.50,516.80 C578.25,519.68 581.75,522.68 584.50,524.80 C587.25,526.92 589.42,528.17 592.00,529.50 C594.58,530.83 597.50,532.00 600.00,532.80 C602.50,533.60 604.33,533.92 607.00,534.30 C609.67,534.68 612.92,534.92 616.00,535.10 C619.08,535.28 623.92,535.35 625.50,535.40" fill="none" stroke="#19e619" stroke-width="1.75" stroke-linejoin="round" />
<path d="M376.90,535.20 C377.42,534.33 378.73,532.12 380.00,530.00 C381.27,527.88 383.08,525.50 384.50,522.50 C385.92,519.50 387.25,515.92 388.50,512.00 C389.75,508.08 390.83,503.67 392.00,499.00 C393.17,494.33 394.42,489.17 395.50,484.00 C396.58,478.83 397.42,473.50 398.50,468.00 C399.58,462.50 400.83,456.50 402.00,451.00 C403.17,445.50 404.25,440.50 405.50,435.00 C406.75,429.50 407.97,424.70 409.50,418.00 C411.03,411.30 413.13,400.93 414.70,394.80 C416.27,388.67 417.33,385.92 418.90,381.20 C420.47,376.48 422.35,370.88 424.10,366.50 C425.85,362.12 427.65,358.23 429.40,354.90 C431.15,351.57 432.50,348.60 434.60,346.50 C436.70,344.40 439.72,342.55 442.00,342.30 C444.28,342.05 446.37,343.20 448.30,345.00 C450.23,346.80 451.82,349.60 453.60,353.10 C455.38,356.60 457.28,360.82 459.00,366.00 C460.72,371.18 462.40,378.28 463.90,384.20 C465.40,390.12 466.62,395.78 468.00,401.50 C469.38,407.22 470.65,412.08 472.20,418.50 C473.75,424.92 475.92,434.32 477.30,440.00 C478.68,445.68 479.27,448.05 480.50,452.60 C481.73,457.15 483.28,461.90 484.70,467.30 C486.12,472.70 487.37,479.18 489.00,485.00 C490.63,490.82 492.82,497.28 494.50,502.20 C496.18,507.12 497.27,510.78 499.10,514.50 C500.93,518.22 503.23,522.07 505.50,524.50 C507.77,526.93 509.98,527.88 512.70,529.10 C515.42,530.32 518.77,530.93 521.80,531.80 C524.83,532.67 527.12,533.77 530.90,534.30 C534.68,534.83 542.23,534.88 544.50,535.00" fill="none" stroke="#1a1aee" stroke-width="1.75" stroke-linejoin="round" />
<path d="M380.20,526.07 L376.90,532.14 L383.50,532.14 Z" fill="#fff" stroke="#3a3a3a" stroke-width="0.95" stroke-linejoin="miter"/>
<path d="M382.05,523.48 L378.75,529.55 L385.35,529.55 Z" fill="#fff" stroke="#3a3a3a" stroke-width="0.95" stroke-linejoin="miter"/>
<path d="M383.90,519.44 L380.60,525.51 L387.20,525.51 Z" fill="#fff" stroke="#3a3a3a" stroke-width="0.95" stroke-linejoin="miter"/>
<path d="M385.75,515.74 L382.45,521.82 L389.05,521.82 Z" fill="#fff" stroke="#3a3a3a" stroke-width="0.95" stroke-linejoin="miter"/>
<path d="M387.60,510.88 L384.30,516.96 L390.90,516.96 Z" fill="#fff" stroke="#3a3a3a" stroke-width="0.95" stroke-linejoin="miter"/>
<path d="M389.45,504.29 L386.15,510.36 L392.75,510.36 Z" fill="#fff" stroke="#3a3a3a" stroke-width="0.95" stroke-linejoin="miter"/>
<path d="M391.30,497.36 L388.00,503.44 L394.60,503.44 Z" fill="#fff" stroke="#3a3a3a" stroke-width="0.95" stroke-linejoin="miter"/>
<path d="M393.15,490.47 L389.85,496.54 L396.45,496.54 Z" fill="#fff" stroke="#3a3a3a" stroke-width="0.95" stroke-linejoin="miter"/>
<path d="M395.00,480.84 L391.70,486.92 L398.30,486.92 Z" fill="#fff" stroke="#3a3a3a" stroke-width="0.95" stroke-linejoin="miter"/>
<path d="M396.85,470.94 L393.55,477.01 L400.15,477.01 Z" fill="#fff" stroke="#3a3a3a" stroke-width="0.95" stroke-linejoin="miter"/>
<path d="M398.70,461.32 L395.40,467.39 L402.00,467.39 Z" fill="#fff" stroke="#3a3a3a" stroke-width="0.95" stroke-linejoin="miter"/>
<path d="M400.55,452.16 L397.25,458.24 L403.85,458.24 Z" fill="#fff" stroke="#3a3a3a" stroke-width="0.95" stroke-linejoin="miter"/>
<path d="M402.40,443.92 L399.10,449.99 L405.70,449.99 Z" fill="#fff" stroke="#3a3a3a" stroke-width="0.95" stroke-linejoin="miter"/>
<path d="M404.25,435.95 L400.95,442.02 L407.55,442.02 Z" fill="#fff" stroke="#3a3a3a" stroke-width="0.95" stroke-linejoin="miter"/>
<path d="M406.10,428.03 L402.80,434.10 L409.40,434.10 Z" fill="#fff" stroke="#3a3a3a" stroke-width="0.95" stroke-linejoin="miter"/>
<path d="M407.95,420.03 L404.65,426.10 L411.25,426.10 Z" fill="#fff" stroke="#3a3a3a" stroke-width="0.95" stroke-linejoin="miter"/>
<path d="M409.80,411.57 L406.50,417.65 L413.10,417.65 Z" fill="#fff" stroke="#3a3a3a" stroke-width="0.95" stroke-linejoin="miter"/>
<path d="M411.65,403.00 L408.35,409.07 L414.95,409.07 Z" fill="#fff" stroke="#3a3a3a" stroke-width="0.95" stroke-linejoin="miter"/>
<path d="M413.50,394.46 L410.20,400.53 L416.80,400.53 Z" fill="#fff" stroke="#3a3a3a" stroke-width="0.95" stroke-linejoin="miter"/>
<path d="M415.35,386.79 L412.05,392.86 L418.65,392.86 Z" fill="#fff" stroke="#3a3a3a" stroke-width="0.95" stroke-linejoin="miter"/>
<path d="M417.20,380.82 L413.90,386.89 L420.50,386.89 Z" fill="#fff" stroke="#3a3a3a" stroke-width="0.95" stroke-linejoin="miter"/>
<path d="M419.05,375.36 L415.75,381.43 L422.35,381.43 Z" fill="#fff" stroke="#3a3a3a" stroke-width="0.95" stroke-linejoin="miter"/>
<path d="M420.90,369.33 L417.60,375.40 L424.20,375.40 Z" fill="#fff" stroke="#3a3a3a" stroke-width="0.95" stroke-linejoin="miter"/>
<path d="M422.75,363.22 L419.45,369.29 L426.05,369.29 Z" fill="#fff" stroke="#3a3a3a" stroke-width="0.95" stroke-linejoin="miter"/>
<path d="M424.60,358.60 L421.30,364.68 L427.90,364.68 Z" fill="#fff" stroke="#3a3a3a" stroke-width="0.95" stroke-linejoin="miter"/>
<path d="M426.45,354.75 L423.15,360.83 L429.75,360.83 Z" fill="#fff" stroke="#3a3a3a" stroke-width="0.95" stroke-linejoin="miter"/>
<path d="M428.30,351.07 L425.00,357.14 L431.60,357.14 Z" fill="#fff" stroke="#3a3a3a" stroke-width="0.95" stroke-linejoin="miter"/>
<path d="M430.15,347.53 L426.85,353.60 L433.45,353.60 Z" fill="#fff" stroke="#3a3a3a" stroke-width="0.95" stroke-linejoin="miter"/>
<path d="M432.00,344.36 L428.70,350.44 L435.30,350.44 Z" fill="#fff" stroke="#3a3a3a" stroke-width="0.95" stroke-linejoin="miter"/>
<path d="M433.85,341.72 L430.55,347.80 L437.15,347.80 Z" fill="#fff" stroke="#3a3a3a" stroke-width="0.95" stroke-linejoin="miter"/>
<path d="M435.70,339.65 L432.40,345.72 L439.00,345.72 Z" fill="#fff" stroke="#3a3a3a" stroke-width="0.95" stroke-linejoin="miter"/>
<path d="M437.55,338.06 L434.25,344.13 L440.85,344.13 Z" fill="#fff" stroke="#3a3a3a" stroke-width="0.95" stroke-linejoin="miter"/>
<path d="M439.40,336.90 L436.10,342.97 L442.70,342.97 Z" fill="#fff" stroke="#3a3a3a" stroke-width="0.95" stroke-linejoin="miter"/>
<path d="M441.25,336.28 L437.95,342.35 L444.55,342.35 Z" fill="#fff" stroke="#3a3a3a" stroke-width="0.95" stroke-linejoin="miter"/>
<path d="M443.10,336.13 L439.80,342.20 L446.40,342.20 Z" fill="#fff" stroke="#3a3a3a" stroke-width="0.95" stroke-linejoin="miter"/>
<path d="M444.95,336.34 L441.65,342.41 L448.25,342.41 Z" fill="#fff" stroke="#3a3a3a" stroke-width="0.95" stroke-linejoin="miter"/>
<path d="M446.80,336.77 L443.50,342.84 L450.10,342.84 Z" fill="#fff" stroke="#3a3a3a" stroke-width="0.95" stroke-linejoin="miter"/>
<path d="M448.65,337.59 L445.35,343.66 L451.95,343.66 Z" fill="#fff" stroke="#3a3a3a" stroke-width="0.95" stroke-linejoin="miter"/>
<path d="M450.50,338.96 L447.20,345.04 L453.80,345.04 Z" fill="#fff" stroke="#3a3a3a" stroke-width="0.95" stroke-linejoin="miter"/>
<path d="M452.35,340.56 L449.05,346.63 L455.65,346.63 Z" fill="#fff" stroke="#3a3a3a" stroke-width="0.95" stroke-linejoin="miter"/>
<path d="M454.20,342.24 L450.90,348.31 L457.50,348.31 Z" fill="#fff" stroke="#3a3a3a" stroke-width="0.95" stroke-linejoin="miter"/>
<path d="M456.05,344.01 L452.75,350.08 L459.35,350.08 Z" fill="#fff" stroke="#3a3a3a" stroke-width="0.95" stroke-linejoin="miter"/>
<path d="M457.90,345.90 L454.60,351.97 L461.20,351.97 Z" fill="#fff" stroke="#3a3a3a" stroke-width="0.95" stroke-linejoin="miter"/>
<path d="M459.75,347.95 L456.45,354.03 L463.05,354.03 Z" fill="#fff" stroke="#3a3a3a" stroke-width="0.95" stroke-linejoin="miter"/>
<path d="M461.60,350.24 L458.30,356.32 L464.90,356.32 Z" fill="#fff" stroke="#3a3a3a" stroke-width="0.95" stroke-linejoin="miter"/>
<path d="M463.45,352.79 L460.15,358.86 L466.75,358.86 Z" fill="#fff" stroke="#3a3a3a" stroke-width="0.95" stroke-linejoin="miter"/>
<path d="M465.30,355.56 L462.00,361.63 L468.60,361.63 Z" fill="#fff" stroke="#3a3a3a" stroke-width="0.95" stroke-linejoin="miter"/>
<path d="M467.15,358.53 L463.85,364.60 L470.45,364.60 Z" fill="#fff" stroke="#3a3a3a" stroke-width="0.95" stroke-linejoin="miter"/>
<path d="M469.00,361.69 L465.70,367.76 L472.30,367.76 Z" fill="#fff" stroke="#3a3a3a" stroke-width="0.95" stroke-linejoin="miter"/>
<path d="M470.85,365.01 L467.55,371.08 L474.15,371.08 Z" fill="#fff" stroke="#3a3a3a" stroke-width="0.95" stroke-linejoin="miter"/>
<path d="M472.70,368.56 L469.40,374.63 L476.00,374.63 Z" fill="#fff" stroke="#3a3a3a" stroke-width="0.95" stroke-linejoin="miter"/>
<path d="M474.55,372.34 L471.25,378.41 L477.85,378.41 Z" fill="#fff" stroke="#3a3a3a" stroke-width="0.95" stroke-linejoin="miter"/>
<path d="M476.40,376.30 L473.10,382.38 L479.70,382.38 Z" fill="#fff" stroke="#3a3a3a" stroke-width="0.95" stroke-linejoin="miter"/>
<path d="M478.25,380.44 L474.95,386.51 L481.55,386.51 Z" fill="#fff" stroke="#3a3a3a" stroke-width="0.95" stroke-linejoin="miter"/>
<path d="M480.10,384.99 L476.80,391.06 L483.40,391.06 Z" fill="#fff" stroke="#3a3a3a" stroke-width="0.95" stroke-linejoin="miter"/>
<path d="M481.95,390.69 L478.65,396.76 L485.25,396.76 Z" fill="#fff" stroke="#3a3a3a" stroke-width="0.95" stroke-linejoin="miter"/>
<path d="M483.80,395.20 L480.50,401.27 L487.10,401.27 Z" fill="#fff" stroke="#3a3a3a" stroke-width="0.95" stroke-linejoin="miter"/>
<path d="M485.65,399.38 L482.35,405.46 L488.95,405.46 Z" fill="#fff" stroke="#3a3a3a" stroke-width="0.95" stroke-linejoin="miter"/>
<path d="M487.50,403.49 L484.20,409.56 L490.80,409.56 Z" fill="#fff" stroke="#3a3a3a" stroke-width="0.95" stroke-linejoin="miter"/>
<path d="M489.35,407.55 L486.05,413.63 L492.65,413.63 Z" fill="#fff" stroke="#3a3a3a" stroke-width="0.95" stroke-linejoin="miter"/>
<path d="M491.20,411.60 L487.90,417.67 L494.50,417.67 Z" fill="#fff" stroke="#3a3a3a" stroke-width="0.95" stroke-linejoin="miter"/>
<path d="M493.05,415.62 L489.75,421.70 L496.35,421.70 Z" fill="#fff" stroke="#3a3a3a" stroke-width="0.95" stroke-linejoin="miter"/>
<path d="M494.90,419.64 L491.60,425.71 L498.20,425.71 Z" fill="#fff" stroke="#3a3a3a" stroke-width="0.95" stroke-linejoin="miter"/>
<path d="M496.75,423.65 L493.45,429.72 L500.05,429.72 Z" fill="#fff" stroke="#3a3a3a" stroke-width="0.95" stroke-linejoin="miter"/>
<path d="M498.60,427.65 L495.30,433.72 L501.90,433.72 Z" fill="#fff" stroke="#3a3a3a" stroke-width="0.95" stroke-linejoin="miter"/>
<path d="M500.45,431.65 L497.15,437.72 L503.75,437.72 Z" fill="#fff" stroke="#3a3a3a" stroke-width="0.95" stroke-linejoin="miter"/>
<path d="M502.30,435.65 L499.00,441.72 L505.60,441.72 Z" fill="#fff" stroke="#3a3a3a" stroke-width="0.95" stroke-linejoin="miter"/>
<path d="M504.15,439.66 L500.85,445.73 L507.45,445.73 Z" fill="#fff" stroke="#3a3a3a" stroke-width="0.95" stroke-linejoin="miter"/>
<path d="M506.00,443.65 L502.70,449.72 L509.30,449.72 Z" fill="#fff" stroke="#3a3a3a" stroke-width="0.95" stroke-linejoin="miter"/>
<path d="M507.85,447.56 L504.55,453.63 L511.15,453.63 Z" fill="#fff" stroke="#3a3a3a" stroke-width="0.95" stroke-linejoin="miter"/>
<path d="M509.70,451.41 L506.40,457.48 L513.00,457.48 Z" fill="#fff" stroke="#3a3a3a" stroke-width="0.95" stroke-linejoin="miter"/>
<path d="M511.55,455.26 L508.25,461.33 L514.85,461.33 Z" fill="#fff" stroke="#3a3a3a" stroke-width="0.95" stroke-linejoin="miter"/>
<path d="M513.40,459.11 L510.10,465.18 L516.70,465.18 Z" fill="#fff" stroke="#3a3a3a" stroke-width="0.95" stroke-linejoin="miter"/>
<path d="M515.25,462.96 L511.95,469.03 L518.55,469.03 Z" fill="#fff" stroke="#3a3a3a" stroke-width="0.95" stroke-linejoin="miter"/>
<path d="M517.10,466.81 L513.80,472.88 L520.40,472.88 Z" fill="#fff" stroke="#3a3a3a" stroke-width="0.95" stroke-linejoin="miter"/>
<path d="M518.95,470.64 L515.65,476.72 L522.25,476.72 Z" fill="#fff" stroke="#3a3a3a" stroke-width="0.95" stroke-linejoin="miter"/>
<path d="M520.80,474.47 L517.50,480.54 L524.10,480.54 Z" fill="#fff" stroke="#3a3a3a" stroke-width="0.95" stroke-linejoin="miter"/>
<path d="M522.65,478.29 L519.35,484.36 L525.95,484.36 Z" fill="#fff" stroke="#3a3a3a" stroke-width="0.95" stroke-linejoin="miter"/>
<path d="M524.50,482.09 L521.20,488.16 L527.80,488.16 Z" fill="#fff" stroke="#3a3a3a" stroke-width="0.95" stroke-linejoin="miter"/>
<path d="M526.35,485.86 L523.05,491.93 L529.65,491.93 Z" fill="#fff" stroke="#3a3a3a" stroke-width="0.95" stroke-linejoin="miter"/>
<path d="M528.20,489.56 L524.90,495.63 L531.50,495.63 Z" fill="#fff" stroke="#3a3a3a" stroke-width="0.95" stroke-linejoin="miter"/>
<path d="M530.05,492.03 L526.75,498.11 L533.35,498.11 Z" fill="#fff" stroke="#3a3a3a" stroke-width="0.95" stroke-linejoin="miter"/>
<path d="M531.90,494.65 L528.60,500.73 L535.20,500.73 Z" fill="#fff" stroke="#3a3a3a" stroke-width="0.95" stroke-linejoin="miter"/>
<path d="M533.75,497.25 L530.45,503.32 L537.05,503.32 Z" fill="#fff" stroke="#3a3a3a" stroke-width="0.95" stroke-linejoin="miter"/>
<path d="M535.60,499.77 L532.30,505.84 L538.90,505.84 Z" fill="#fff" stroke="#3a3a3a" stroke-width="0.95" stroke-linejoin="miter"/>
<path d="M537.45,502.18 L534.15,508.25 L540.75,508.25 Z" fill="#fff" stroke="#3a3a3a" stroke-width="0.95" stroke-linejoin="miter"/>
<path d="M539.30,504.43 L536.00,510.50 L542.60,510.50 Z" fill="#fff" stroke="#3a3a3a" stroke-width="0.95" stroke-linejoin="miter"/>
<path d="M541.15,506.49 L537.85,512.56 L544.45,512.56 Z" fill="#fff" stroke="#3a3a3a" stroke-width="0.95" stroke-linejoin="miter"/>
<path d="M543.00,508.42 L539.70,514.49 L546.30,514.49 Z" fill="#fff" stroke="#3a3a3a" stroke-width="0.95" stroke-linejoin="miter"/>
<path d="M544.85,510.26 L541.55,516.33 L548.15,516.33 Z" fill="#fff" stroke="#3a3a3a" stroke-width="0.95" stroke-linejoin="miter"/>
<path d="M546.70,512.04 L543.40,518.11 L550.00,518.11 Z" fill="#fff" stroke="#3a3a3a" stroke-width="0.95" stroke-linejoin="miter"/>
<path d="M548.55,513.78 L545.25,519.85 L551.85,519.85 Z" fill="#fff" stroke="#3a3a3a" stroke-width="0.95" stroke-linejoin="miter"/>
<path d="M550.40,515.50 L547.10,521.57 L553.70,521.57 Z" fill="#fff" stroke="#3a3a3a" stroke-width="0.95" stroke-linejoin="miter"/>
<path d="M552.25,517.22 L548.95,523.29 L555.55,523.29 Z" fill="#fff" stroke="#3a3a3a" stroke-width="0.95" stroke-linejoin="miter"/>
<path d="M554.10,518.93 L550.80,525.00 L557.40,525.00 Z" fill="#fff" stroke="#3a3a3a" stroke-width="0.95" stroke-linejoin="miter"/>
<path d="M555.95,520.58 L552.65,526.65 L559.25,526.65 Z" fill="#fff" stroke="#3a3a3a" stroke-width="0.95" stroke-linejoin="miter"/>
<path d="M557.80,522.09 L554.50,528.16 L561.10,528.16 Z" fill="#fff" stroke="#3a3a3a" stroke-width="0.95" stroke-linejoin="miter"/>
<path d="M559.65,523.43 L556.35,529.50 L562.95,529.50 Z" fill="#fff" stroke="#3a3a3a" stroke-width="0.95" stroke-linejoin="miter"/>
<path d="M561.50,524.58 L558.20,530.65 L564.80,530.65 Z" fill="#fff" stroke="#3a3a3a" stroke-width="0.95" stroke-linejoin="miter"/>
<path d="M563.35,525.59 L560.05,531.66 L566.65,531.66 Z" fill="#fff" stroke="#3a3a3a" stroke-width="0.95" stroke-linejoin="miter"/>
<path d="M565.20,526.48 L561.90,532.55 L568.50,532.55 Z" fill="#fff" stroke="#3a3a3a" stroke-width="0.95" stroke-linejoin="miter"/>
<path d="M567.05,527.29 L563.75,533.36 L570.35,533.36 Z" fill="#fff" stroke="#3a3a3a" stroke-width="0.95" stroke-linejoin="miter"/>
<path d="M568.90,528.04 L565.60,534.11 L572.20,534.11 Z" fill="#fff" stroke="#3a3a3a" stroke-width="0.95" stroke-linejoin="miter"/>
<path d="M570.75,528.73 L567.45,534.80 L574.05,534.80 Z" fill="#fff" stroke="#3a3a3a" stroke-width="0.95" stroke-linejoin="miter"/>
<path d="M572.60,529.28 L569.30,535.35 L575.90,535.35 Z" fill="#fff" stroke="#3a3a3a" stroke-width="0.95" stroke-linejoin="miter"/>
<path d="M574.45,529.72 L571.15,535.80 L577.75,535.80 Z" fill="#fff" stroke="#3a3a3a" stroke-width="0.95" stroke-linejoin="miter"/>
<path d="M576.30,530.11 L573.00,536.18 L579.60,536.18 Z" fill="#fff" stroke="#3a3a3a" stroke-width="0.95" stroke-linejoin="miter"/>
<path d="M578.15,530.46 L574.85,536.54 L581.45,536.54 Z" fill="#fff" stroke="#3a3a3a" stroke-width="0.95" stroke-linejoin="miter"/>
<rect x="539.3" y="358.2" width="65.5" height="36.3" fill="none" stroke="#888" stroke-width="1"/>
<path d="M551.80,361.08 L548.30,367.52 L555.30,367.52 Z" fill="none" stroke="#444" stroke-width="0.9" stroke-linejoin="miter"/>
<line x1="540.70" y1="376.90" x2="563.00" y2="376.90" stroke="#1a1aee" stroke-width="2.0" />
<line x1="540.70" y1="389.00" x2="563.00" y2="389.00" stroke="#19e619" stroke-width="2.0" />
<text x="565.50" y="368.00" font-family="Liberation Sans" font-size="9.5" text-anchor="start" font-weight="normal" fill="#111" >Bound</text>
<text x="565.50" y="380.10" font-family="Liberation Sans" font-size="9.5" text-anchor="start" font-weight="normal" fill="#111" >Dimer</text>
<text x="565.50" y="392.20" font-family="Liberation Sans" font-size="9.5" text-anchor="start" font-weight="normal" fill="#111" >Tetramer</text>
</svg>
</body></html>
